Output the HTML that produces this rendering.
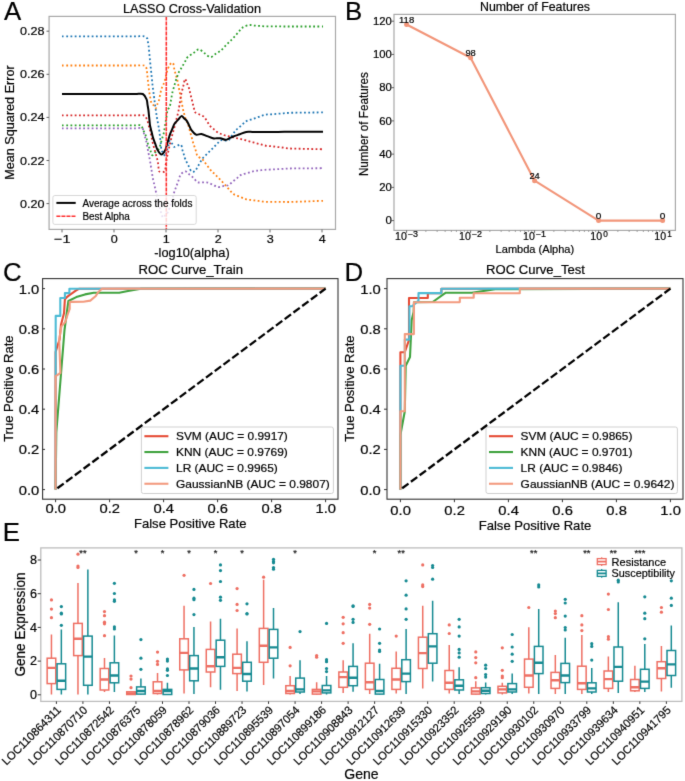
<!DOCTYPE html>
<html><head><meta charset="utf-8"><style>
html,body{margin:0;padding:0;background:#fff;}
svg{display:block;font-family:"Liberation Sans", sans-serif;}
text{stroke:#000;stroke-width:0.2px;paint-order:stroke;}
</style></head><body>
<svg width="685" height="781" viewBox="0 0 685 781">
<defs><filter id="soft" x="0" y="0" width="685" height="781" filterUnits="userSpaceOnUse" color-interpolation-filters="sRGB"><feConvolveMatrix order="3" kernelMatrix="0.01000 0.08000 0.01000 0.08000 0.64000 0.08000 0.01000 0.08000 0.01000" divisor="1" edgeMode="duplicate" preserveAlpha="true"/></filter></defs>
<g filter="url(#soft)">
<rect x="0" y="0" width="685" height="781" fill="#fff"/>
<text x="4" y="20" font-size="25.8" text-anchor="start" fill="#000" >A</text>
<text x="345" y="20" font-size="25.8" text-anchor="start" fill="#000" >B</text>
<text x="3" y="281.2" font-size="25.8" text-anchor="start" fill="#000" >C</text>
<text x="344.5" y="281.2" font-size="25.8" text-anchor="start" fill="#000" >D</text>
<text x="2.8" y="541.2" font-size="25.8" text-anchor="start" fill="#000" >E</text>
<clipPath id="clipA"><rect x="49" y="16.5" width="286.5" height="212.5"/></clipPath>
<g clip-path="url(#clipA)">
<path d="M62.00,36.30 C63.14,36.30 66.56,36.30 68.84,36.30 C71.12,36.30 73.40,36.30 75.68,36.30 C77.96,36.30 80.24,36.30 82.53,36.30 C84.81,36.30 87.09,36.30 89.37,36.30 C91.65,36.30 93.93,36.30 96.21,36.30 C98.49,36.30 100.77,36.30 103.05,36.30 C105.33,36.30 107.61,36.30 109.89,36.30 C112.17,36.30 114.45,36.30 116.73,36.30 C119.01,36.30 121.29,36.30 123.57,36.30 C125.86,36.30 128.14,36.30 130.42,36.30 C132.70,36.30 134.98,36.30 137.26,36.30 C139.54,36.30 142.43,35.92 144.10,36.30 C145.77,36.68 146.66,37.63 147.30,38.60 C147.94,39.57 147.73,40.93 147.95,42.10 C148.17,43.27 148.39,43.95 148.60,45.60 C148.81,47.25 149.00,49.87 149.20,52.00 C149.40,54.13 149.59,56.27 149.80,58.40 C150.01,60.53 150.23,62.67 150.45,64.80 C150.67,66.93 150.88,69.07 151.10,71.20 C151.32,73.33 151.53,75.47 151.75,77.60 C151.97,79.73 152.18,82.08 152.40,84.00 C152.62,85.92 152.83,87.43 153.05,89.15 C153.27,90.87 153.48,92.59 153.70,94.30 C153.92,96.01 154.13,97.70 154.35,99.40 C154.57,101.10 154.73,102.58 155.00,104.50 C155.27,106.42 155.63,108.77 155.95,110.90 C156.27,113.03 156.55,115.17 156.90,117.30 C157.25,119.42 157.67,121.53 158.05,123.65 C158.43,125.77 158.88,127.83 159.20,130.00 C159.52,132.17 159.71,134.44 159.97,136.67 C160.22,138.89 160.48,141.11 160.73,143.33 C160.99,145.56 161.06,148.38 161.50,150.00 C161.94,151.62 162.77,152.03 163.40,153.05 C164.03,154.07 164.73,156.45 165.30,156.10 C165.87,155.75 166.32,152.68 166.83,150.97 C167.34,149.26 167.86,147.54 168.37,145.83 C168.88,144.12 169.26,141.04 169.90,140.70 C170.54,140.36 171.43,142.77 172.20,143.80 C172.97,144.83 173.08,146.77 174.50,146.90 C175.92,147.03 179.41,144.17 180.70,144.60 C181.99,145.03 181.72,147.84 182.23,149.47 C182.74,151.09 183.26,152.71 183.77,154.33 C184.28,155.96 184.54,157.37 185.30,159.20 C186.06,161.03 187.33,163.27 188.35,165.30 C189.37,167.33 190.29,170.43 191.40,171.40 C192.51,172.37 193.97,171.86 195.00,171.10 C196.03,170.34 196.71,168.26 197.57,166.83 C198.42,165.41 199.28,163.99 200.13,162.57 C200.99,161.14 201.63,159.65 202.70,158.30 C203.77,156.95 205.27,155.73 206.55,154.45 C207.83,153.17 209.19,151.81 210.40,150.60 C211.61,149.39 212.67,148.33 213.80,147.20 C214.93,146.07 216.07,144.93 217.20,143.80 C218.33,142.67 219.39,140.97 220.60,140.40 C221.81,139.83 223.17,140.40 224.45,140.40 C225.73,140.40 227.02,141.26 228.30,140.40 C229.58,139.54 230.87,136.97 232.15,135.25 C233.43,133.53 234.51,131.70 236.00,130.10 C237.49,128.50 239.40,127.13 241.10,125.65 C242.80,124.17 244.31,122.30 246.20,121.20 C248.09,120.10 250.36,119.78 252.43,119.07 C254.51,118.36 256.59,117.64 258.67,116.93 C260.74,116.22 262.82,115.24 264.90,114.80 C266.98,114.36 269.08,114.47 271.17,114.30 C273.27,114.13 275.36,113.97 277.45,113.80 C279.54,113.63 281.63,113.47 283.73,113.30 C285.82,113.13 287.85,112.90 290.00,112.80 C292.15,112.70 294.40,112.75 296.60,112.72 C298.80,112.69 301.00,112.67 303.20,112.64 C305.40,112.61 307.60,112.59 309.80,112.56 C312.00,112.53 314.20,112.51 316.40,112.48 C318.60,112.45 321.90,112.41 323.00,112.40" fill="none" stroke="#1f77b4" stroke-width="1.8" stroke-linejoin="round" stroke-linecap="butt" stroke-dasharray="1.8 2.44"/>
<path d="M62.00,65.50 C63.14,65.50 66.56,65.50 68.84,65.50 C71.12,65.50 73.40,65.50 75.68,65.50 C77.96,65.50 80.24,65.50 82.53,65.50 C84.81,65.50 87.09,65.50 89.37,65.50 C91.65,65.50 93.93,65.50 96.21,65.50 C98.49,65.50 100.77,65.50 103.05,65.50 C105.33,65.50 107.61,65.50 109.89,65.50 C112.17,65.50 114.45,65.50 116.73,65.50 C119.01,65.50 121.29,65.50 123.57,65.50 C125.86,65.50 128.14,65.50 130.42,65.50 C132.70,65.50 134.98,65.50 137.26,65.50 C139.54,65.50 142.54,64.97 144.10,65.50 C145.66,66.03 146.07,67.21 146.60,68.70 C147.12,70.19 147.03,72.53 147.25,74.45 C147.47,76.37 147.68,78.28 147.90,80.20 C148.12,82.12 148.33,84.03 148.55,85.95 C148.77,87.87 148.93,89.89 149.20,91.70 C149.47,93.51 149.83,95.10 150.15,96.80 C150.47,98.50 150.57,100.52 151.10,101.90 C151.63,103.28 152.60,104.03 153.35,105.10 C154.10,106.17 154.96,108.40 155.60,108.30 C156.24,108.20 156.67,105.77 157.20,104.50 C157.73,103.23 158.32,102.30 158.80,100.70 C159.28,99.10 159.67,96.83 160.10,94.90 C160.53,92.97 160.92,90.70 161.40,89.10 C161.88,87.50 162.47,86.57 163.00,85.30 C163.53,84.03 164.12,82.99 164.60,81.50 C165.07,80.01 165.43,78.07 165.85,76.35 C166.27,74.63 166.46,73.12 167.10,71.20 C167.74,69.28 168.73,66.18 169.70,64.80 C170.67,63.42 172.21,62.52 172.90,62.90 C173.59,63.27 173.53,65.67 173.85,67.05 C174.17,68.43 174.43,69.76 174.80,71.20 C175.18,72.64 175.67,74.20 176.10,75.70 C176.53,77.20 177.01,78.53 177.40,80.20 C177.79,81.87 178.11,83.89 178.47,85.73 C178.82,87.58 179.18,89.42 179.53,91.27 C179.89,93.11 180.21,94.81 180.60,96.80 C180.99,98.79 181.43,101.07 181.85,103.20 C182.27,105.33 182.72,107.89 183.10,109.60 C183.47,111.31 183.77,112.17 184.10,113.45 C184.43,114.73 184.66,115.98 185.10,117.30 C185.54,118.62 186.20,120.00 186.75,121.35 C187.30,122.70 187.87,123.79 188.40,125.40 C188.93,127.01 189.42,129.16 189.93,131.03 C190.44,132.91 190.96,134.79 191.47,136.67 C191.98,138.54 192.49,140.59 193.00,142.30 C193.51,144.01 194.02,145.37 194.53,146.90 C195.04,148.43 195.56,149.97 196.07,151.50 C196.58,153.03 196.49,154.75 197.60,156.10 C198.71,157.45 201.21,158.17 202.70,159.60 C204.19,161.03 205.27,163.00 206.55,164.70 C207.83,166.40 209.19,168.38 210.40,169.80 C211.61,171.22 212.67,172.07 213.80,173.20 C214.93,174.33 216.07,175.47 217.20,176.60 C218.33,177.73 219.32,178.65 220.60,180.00 C221.88,181.35 223.44,183.13 224.87,184.70 C226.29,186.27 227.71,187.83 229.13,189.40 C230.56,190.97 231.62,192.88 233.40,194.10 C235.18,195.32 237.67,195.83 239.80,196.70 C241.93,197.57 244.09,198.73 246.20,199.30 C248.31,199.87 250.36,199.86 252.43,200.13 C254.51,200.41 256.59,200.69 258.67,200.97 C260.74,201.24 262.82,201.65 264.90,201.80 C266.98,201.95 269.08,201.83 271.17,201.85 C273.27,201.87 275.36,201.88 277.45,201.90 C279.54,201.92 281.63,201.93 283.73,201.95 C285.82,201.97 287.85,202.03 290.00,202.00 C292.15,201.97 294.40,201.84 296.60,201.76 C298.80,201.68 301.00,201.60 303.20,201.52 C305.40,201.44 307.60,201.36 309.80,201.28 C312.00,201.20 314.20,201.12 316.40,201.04 C318.60,200.96 321.90,200.84 323.00,200.80" fill="none" stroke="#ff7f0e" stroke-width="1.8" stroke-linejoin="round" stroke-linecap="butt" stroke-dasharray="1.8 2.44"/>
<path d="M62.00,125.40 C63.09,125.40 66.38,125.40 68.57,125.40 C70.76,125.40 72.94,125.40 75.13,125.40 C77.32,125.40 79.51,125.40 81.70,125.40 C83.89,125.40 86.08,125.40 88.27,125.40 C90.46,125.40 92.64,125.40 94.83,125.40 C97.02,125.40 99.21,125.40 101.40,125.40 C103.59,125.40 105.78,125.40 107.97,125.40 C110.16,125.40 112.34,125.40 114.53,125.40 C116.72,125.40 118.91,125.40 121.10,125.40 C123.29,125.40 125.48,125.40 127.67,125.40 C129.86,125.40 132.04,125.40 134.23,125.40 C136.42,125.40 139.32,124.63 140.80,125.40 C142.28,126.17 142.33,128.47 143.10,130.00 C143.87,131.53 144.77,132.94 145.40,134.60 C146.03,136.26 146.40,138.17 146.90,139.95 C147.40,141.73 147.82,143.58 148.40,145.30 C148.98,147.03 149.70,148.63 150.35,150.30 C151.00,151.97 151.40,155.04 152.30,155.30 C153.20,155.56 154.60,153.00 155.75,151.85 C156.90,150.70 158.37,149.83 159.20,148.40 C160.03,146.97 160.22,144.98 160.73,143.27 C161.24,141.56 161.76,139.84 162.27,138.13 C162.78,136.42 163.39,134.81 163.80,133.00 C164.21,131.19 164.43,129.17 164.75,127.25 C165.07,125.33 165.38,123.42 165.70,121.50 C166.02,119.58 166.33,117.67 166.65,115.75 C166.97,113.83 167.09,111.44 167.60,110.00 C168.11,108.56 169.21,108.37 169.70,107.10 C170.19,105.83 170.28,103.97 170.57,102.40 C170.86,100.83 171.14,99.27 171.43,97.70 C171.72,96.13 171.89,94.74 172.30,93.00 C172.71,91.26 173.37,89.17 173.90,87.25 C174.43,85.33 174.97,83.21 175.50,81.50 C176.03,79.79 176.57,78.50 177.10,77.00 C177.63,75.50 178.12,73.78 178.70,72.50 C179.28,71.22 179.97,70.37 180.60,69.30 C181.23,68.23 181.76,67.38 182.50,66.10 C183.24,64.82 184.20,63.10 185.05,61.60 C185.90,60.10 186.24,58.49 187.60,57.10 C188.96,55.71 191.33,54.53 193.20,53.25 C195.07,51.97 196.90,49.40 198.80,49.40 C200.70,49.40 202.67,51.97 204.60,53.25 C206.53,54.53 208.58,56.99 210.40,57.10 C212.22,57.21 213.80,54.97 215.50,53.90 C217.20,52.83 219.04,51.94 220.60,50.70 C222.16,49.46 223.44,47.86 224.87,46.43 C226.29,45.01 227.71,43.59 229.13,42.17 C230.56,40.74 231.94,39.46 233.40,37.90 C234.86,36.34 236.40,34.50 237.90,32.80 C239.40,31.10 240.58,28.98 242.40,27.70 C244.22,26.42 246.84,25.46 248.80,25.10 C250.76,24.74 252.38,25.39 254.17,25.53 C255.96,25.68 257.74,25.82 259.53,25.97 C261.32,26.11 262.96,26.32 264.90,26.40 C266.84,26.48 269.08,26.42 271.17,26.42 C273.27,26.43 275.36,26.44 277.45,26.45 C279.54,26.46 281.63,26.47 283.73,26.48 C285.82,26.48 287.85,26.50 290.00,26.50 C292.15,26.50 294.40,26.50 296.60,26.50 C298.80,26.50 301.00,26.50 303.20,26.50 C305.40,26.50 307.60,26.50 309.80,26.50 C312.00,26.50 314.20,26.50 316.40,26.50 C318.60,26.50 321.90,26.50 323.00,26.50" fill="none" stroke="#2ca02c" stroke-width="1.8" stroke-linejoin="round" stroke-linecap="butt" stroke-dasharray="1.8 2.44"/>
<path d="M62.00,115.40 C63.14,115.40 66.54,115.40 68.82,115.40 C71.09,115.40 73.36,115.40 75.63,115.40 C77.91,115.40 80.18,115.40 82.45,115.40 C84.72,115.40 86.99,115.40 89.27,115.40 C91.54,115.40 93.81,115.40 96.08,115.40 C98.36,115.40 100.63,115.40 102.90,115.40 C105.17,115.40 107.44,115.40 109.72,115.40 C111.99,115.40 114.26,115.40 116.53,115.40 C118.81,115.40 121.08,115.40 123.35,115.40 C125.62,115.40 127.89,115.40 130.17,115.40 C132.44,115.40 134.71,115.40 136.98,115.40 C139.26,115.40 142.15,114.77 143.80,115.40 C145.45,116.03 146.12,117.67 146.90,119.20 C147.68,120.73 147.93,122.80 148.45,124.60 C148.97,126.40 149.57,128.33 150.00,130.00 C150.43,131.67 150.67,133.07 151.00,134.60 C151.33,136.13 151.67,137.67 152.00,139.20 C152.33,140.73 152.58,142.09 153.00,143.80 C153.42,145.51 154.02,147.56 154.53,149.43 C155.04,151.31 155.56,153.19 156.07,155.07 C156.58,156.94 157.21,158.87 157.60,160.70 C157.99,162.53 158.13,164.27 158.40,166.05 C158.67,167.83 158.17,170.51 159.20,171.40 C160.23,172.29 163.51,172.55 164.60,171.40 C165.69,170.25 165.37,166.80 165.75,164.50 C166.13,162.20 166.50,159.69 166.90,157.60 C167.30,155.51 167.74,153.84 168.17,151.97 C168.59,150.09 169.01,148.21 169.43,146.33 C169.86,144.46 170.28,142.41 170.70,140.70 C171.12,138.99 171.54,137.63 171.97,136.10 C172.39,134.57 172.81,133.03 173.23,131.50 C173.66,129.97 174.07,128.52 174.50,126.90 C174.93,125.28 175.37,123.48 175.80,121.77 C176.23,120.06 176.67,118.34 177.10,116.63 C177.53,114.92 178.03,113.31 178.40,111.50 C178.77,109.69 179.02,107.68 179.33,105.77 C179.64,103.86 179.96,101.94 180.27,100.03 C180.58,98.12 180.83,96.11 181.20,94.30 C181.57,92.49 182.07,90.88 182.50,89.17 C182.93,87.46 183.37,85.74 183.80,84.03 C184.23,82.32 184.57,79.01 185.10,78.90 C185.63,78.79 186.37,81.90 187.00,83.40 C187.63,84.90 188.37,86.30 188.90,87.90 C189.43,89.50 189.74,91.30 190.17,93.00 C190.59,94.70 191.01,96.40 191.43,98.10 C191.86,99.80 192.30,101.60 192.70,103.20 C193.10,104.80 193.47,106.20 193.85,107.70 C194.23,109.20 194.06,111.07 195.00,112.20 C195.94,113.33 198.00,113.73 199.50,114.50 C201.00,115.27 202.72,115.62 204.00,116.80 C205.28,117.97 206.13,119.97 207.20,121.55 C208.27,123.13 209.23,124.97 210.40,126.30 C211.57,127.62 212.93,128.43 214.20,129.50 C215.47,130.57 216.72,131.92 218.00,132.70 C219.28,133.48 220.57,133.70 221.85,134.20 C223.13,134.70 224.20,135.26 225.70,135.70 C227.20,136.14 229.12,136.46 230.83,136.83 C232.54,137.21 234.26,137.59 235.97,137.97 C237.68,138.34 239.25,138.64 241.10,139.10 C242.95,139.56 245.07,140.17 247.05,140.70 C249.03,141.23 251.02,141.77 253.00,142.30 C254.98,142.83 256.97,143.37 258.95,143.90 C260.93,144.43 262.86,145.11 264.90,145.50 C266.94,145.89 269.08,146.00 271.17,146.25 C273.27,146.50 275.36,146.75 277.45,147.00 C279.54,147.25 281.63,147.50 283.73,147.75 C285.82,148.00 287.85,148.35 290.00,148.50 C292.15,148.65 294.40,148.61 296.60,148.66 C298.80,148.71 301.00,148.77 303.20,148.82 C305.40,148.87 307.60,148.93 309.80,148.98 C312.00,149.03 314.20,149.09 316.40,149.14 C318.60,149.19 321.90,149.27 323.00,149.30" fill="none" stroke="#d62728" stroke-width="1.8" stroke-linejoin="round" stroke-linecap="butt" stroke-dasharray="1.8 2.44"/>
<path d="M62.00,128.40 C63.12,128.40 66.46,128.40 68.69,128.40 C70.92,128.40 73.15,128.40 75.38,128.40 C77.61,128.40 79.84,128.40 82.08,128.40 C84.31,128.40 86.54,128.40 88.77,128.40 C91.00,128.40 93.23,128.40 95.46,128.40 C97.69,128.40 99.92,128.40 102.15,128.40 C104.38,128.40 106.61,128.40 108.84,128.40 C111.07,128.40 113.30,128.40 115.53,128.40 C117.76,128.40 119.99,128.40 122.22,128.40 C124.46,128.40 126.69,128.40 128.92,128.40 C131.15,128.40 133.38,128.40 135.61,128.40 C137.84,128.40 140.87,127.38 142.30,128.40 C143.73,129.43 143.57,132.50 144.20,134.55 C144.83,136.60 145.57,138.56 146.10,140.70 C146.63,142.84 146.97,145.14 147.40,147.37 C147.83,149.59 148.27,151.81 148.70,154.03 C149.13,156.26 149.62,158.57 150.00,160.70 C150.38,162.83 150.67,164.79 151.00,166.83 C151.33,168.88 151.67,170.92 152.00,172.97 C152.33,175.01 152.62,177.14 153.00,179.10 C153.38,181.06 153.87,182.86 154.30,184.73 C154.73,186.61 155.17,188.49 155.60,190.37 C156.03,192.24 156.47,194.21 156.90,196.00 C157.33,197.79 157.74,199.42 158.17,201.13 C158.59,202.84 159.01,204.56 159.43,206.27 C159.86,207.98 160.11,209.53 160.70,211.40 C161.29,213.27 162.17,216.99 163.00,217.50 C163.83,218.01 164.80,215.47 165.70,214.45 C166.60,213.43 167.61,213.02 168.40,211.40 C169.19,209.78 169.76,206.96 170.43,204.73 C171.11,202.51 171.79,200.29 172.47,198.07 C173.14,195.84 173.82,193.45 174.50,191.40 C175.18,189.35 175.88,187.64 176.57,185.77 C177.26,183.89 177.94,182.01 178.63,180.13 C179.32,178.26 179.59,175.96 180.70,174.50 C181.81,173.04 184.03,171.53 185.30,171.40 C186.58,171.27 187.33,172.93 188.35,173.70 C189.37,174.47 190.38,175.10 191.40,176.00 C192.43,176.90 193.47,178.07 194.50,179.10 C195.53,180.13 196.23,181.65 197.60,182.20 C198.97,182.75 201.00,182.33 202.70,182.40 C204.40,182.47 206.10,182.20 207.80,182.60 C209.50,183.00 211.20,184.07 212.90,184.80 C214.60,185.53 216.29,186.78 218.00,187.00 C219.71,187.22 221.43,186.40 223.15,186.10 C224.87,185.80 226.73,185.92 228.30,185.20 C229.87,184.48 231.14,182.91 232.57,181.77 C233.99,180.62 235.41,179.48 236.83,178.33 C238.26,177.19 239.32,175.79 241.10,174.90 C242.88,174.01 245.37,173.63 247.50,173.00 C249.63,172.37 251.92,171.53 253.90,171.10 C255.88,170.67 257.57,170.67 259.40,170.45 C261.23,170.23 262.94,169.96 264.90,169.80 C266.86,169.64 269.08,169.58 271.17,169.48 C273.27,169.37 275.36,169.26 277.45,169.15 C279.54,169.04 281.63,168.93 283.73,168.82 C285.82,168.72 287.85,168.56 290.00,168.50 C292.15,168.44 294.40,168.46 296.60,168.44 C298.80,168.42 301.00,168.40 303.20,168.38 C305.40,168.36 307.60,168.34 309.80,168.32 C312.00,168.30 314.20,168.28 316.40,168.26 C318.60,168.24 321.90,168.21 323.00,168.20" fill="none" stroke="#9467bd" stroke-width="1.8" stroke-linejoin="round" stroke-linecap="butt" stroke-dasharray="1.8 2.44"/>
<path d="M62.00,94.00 C63.12,94.00 66.49,94.00 68.73,94.00 C70.98,94.00 73.22,94.00 75.47,94.00 C77.71,94.00 79.96,94.00 82.20,94.00 C84.44,94.00 86.69,94.00 88.93,94.00 C91.18,94.00 93.42,94.00 95.67,94.00 C97.91,94.00 100.16,94.00 102.40,94.00 C104.64,94.00 106.89,94.00 109.13,94.00 C111.38,94.00 113.62,94.00 115.87,94.00 C118.11,94.00 120.36,94.00 122.60,94.00 C124.84,94.00 127.09,94.00 129.33,94.00 C131.58,94.00 133.82,94.00 136.07,94.00 C138.31,94.00 141.04,93.10 142.80,94.00 C144.56,94.90 145.82,97.62 146.60,99.40 C147.38,101.18 147.20,102.93 147.50,104.70 C147.80,106.47 148.16,108.26 148.40,110.00 C148.64,111.74 148.76,113.42 148.93,115.13 C149.11,116.84 149.29,118.56 149.47,120.27 C149.64,121.98 149.66,123.53 150.00,125.40 C150.34,127.27 151.00,129.47 151.50,131.50 C152.00,133.53 152.37,135.55 153.00,137.60 C153.63,139.65 154.53,141.73 155.30,143.80 C156.07,145.87 156.57,148.22 157.60,150.00 C158.63,151.78 160.22,154.50 161.50,154.50 C162.78,154.50 164.41,151.61 165.30,150.00 C166.19,148.39 166.32,146.58 166.83,144.87 C167.34,143.16 167.86,141.44 168.37,139.73 C168.88,138.02 169.26,136.36 169.90,134.60 C170.54,132.84 171.43,131.00 172.20,129.20 C172.97,127.40 173.53,125.34 174.50,123.80 C175.47,122.26 176.83,121.23 178.00,119.95 C179.17,118.67 180.47,116.35 181.50,116.10 C182.53,115.85 183.27,117.67 184.15,118.45 C185.03,119.23 185.98,119.64 186.80,120.80 C187.62,121.96 188.33,123.87 189.10,125.40 C189.87,126.93 190.25,128.47 191.40,130.00 C192.55,131.53 194.33,133.93 196.00,134.60 C197.67,135.27 199.54,133.74 201.40,134.00 C203.26,134.26 205.23,135.43 207.15,136.15 C209.07,136.87 211.30,137.94 212.90,138.30 C214.50,138.66 215.47,138.30 216.75,138.30 C218.03,138.30 219.11,138.05 220.60,138.30 C222.09,138.55 224.21,139.83 225.70,139.80 C227.19,139.78 228.27,138.70 229.55,138.15 C230.83,137.60 231.69,137.16 233.40,136.50 C235.11,135.84 237.67,134.97 239.80,134.20 C241.93,133.43 244.09,132.28 246.20,131.90 C248.31,131.52 250.36,131.90 252.43,131.90 C254.51,131.90 256.59,131.90 258.67,131.90 C260.74,131.90 262.79,131.90 264.90,131.90 C267.01,131.90 269.20,131.89 271.36,131.89 C273.51,131.89 275.66,131.88 277.81,131.88 C279.96,131.87 282.11,131.87 284.27,131.87 C286.42,131.86 288.57,131.86 290.72,131.86 C292.87,131.85 295.03,131.85 297.18,131.84 C299.33,131.84 301.48,131.84 303.63,131.83 C305.79,131.83 307.94,131.83 310.09,131.82 C312.24,131.82 314.39,131.81 316.54,131.81 C318.70,131.81 321.92,131.80 323.00,131.80" fill="none" stroke="#000" stroke-width="2.0" stroke-linejoin="round" stroke-linecap="butt" />
<line x1="166.3" y1="16.5" x2="166.3" y2="229" stroke="#ff3030" stroke-width="1.6" stroke-dasharray="4.0 1.03"/>
</g>
<rect x="52.9" y="195.5" width="143.3" height="28.9" rx="2" ry="2" fill="#fff" fill-opacity="0.8" stroke="#d8d8d8" stroke-width="1"/>
<line x1="56.4" y1="202.9" x2="75.7" y2="202.9" stroke="#000" stroke-width="2" />
<line x1="56.4" y1="216.2" x2="75.7" y2="216.2" stroke="#ff3030" stroke-width="1.6" stroke-dasharray="4.0 1.03"/>
<text x="82.4" y="206.7" font-size="10.4" text-anchor="start" fill="#000" textLength="110" lengthAdjust="spacingAndGlyphs" >Average across the folds</text>
<text x="82.4" y="220" font-size="10.4" text-anchor="start" fill="#000" textLength="47.5" lengthAdjust="spacingAndGlyphs" >Best Alpha</text>
<rect x="49.08" y="16.4" width="286.42" height="213.0" stroke="#a8a8a8" stroke-width="1.2" fill="none" />
<line x1="46.5" y1="203.6" x2="49.08" y2="203.6" stroke="#666" stroke-width="1" />
<text x="44.6" y="207.6" font-size="11.65" text-anchor="end" fill="#000" textLength="24.5" lengthAdjust="spacingAndGlyphs" >0.20</text>
<line x1="46.5" y1="160.5" x2="49.08" y2="160.5" stroke="#666" stroke-width="1" />
<text x="44.6" y="164.5" font-size="11.65" text-anchor="end" fill="#000" textLength="24.5" lengthAdjust="spacingAndGlyphs" >0.22</text>
<line x1="46.5" y1="117.40000000000003" x2="49.08" y2="117.40000000000003" stroke="#666" stroke-width="1" />
<text x="44.6" y="121.40000000000003" font-size="11.65" text-anchor="end" fill="#000" textLength="24.5" lengthAdjust="spacingAndGlyphs" >0.24</text>
<line x1="46.5" y1="74.30000000000001" x2="49.08" y2="74.30000000000001" stroke="#666" stroke-width="1" />
<text x="44.6" y="78.30000000000001" font-size="11.65" text-anchor="end" fill="#000" textLength="24.5" lengthAdjust="spacingAndGlyphs" >0.26</text>
<line x1="46.5" y1="31.19999999999996" x2="49.08" y2="31.19999999999996" stroke="#666" stroke-width="1" />
<text x="44.6" y="35.19999999999996" font-size="11.65" text-anchor="end" fill="#000" textLength="24.5" lengthAdjust="spacingAndGlyphs" >0.28</text>
<line x1="62" y1="229.4" x2="62" y2="232.4" stroke="#666" stroke-width="1" />
<text x="62.3" y="242.6" font-size="11.65" text-anchor="middle" fill="#000" textLength="16.4" lengthAdjust="spacingAndGlyphs" >−1</text>
<line x1="114" y1="229.4" x2="114" y2="232.4" stroke="#666" stroke-width="1" />
<text x="114.3" y="242.6" font-size="11.65" text-anchor="middle" fill="#000" textLength="7.0" lengthAdjust="spacingAndGlyphs" >0</text>
<line x1="166" y1="229.4" x2="166" y2="232.4" stroke="#666" stroke-width="1" />
<text x="166.3" y="242.6" font-size="11.65" text-anchor="middle" fill="#000" textLength="7.0" lengthAdjust="spacingAndGlyphs" >1</text>
<line x1="218" y1="229.4" x2="218" y2="232.4" stroke="#666" stroke-width="1" />
<text x="218.3" y="242.6" font-size="11.65" text-anchor="middle" fill="#000" textLength="7.0" lengthAdjust="spacingAndGlyphs" >2</text>
<line x1="270" y1="229.4" x2="270" y2="232.4" stroke="#666" stroke-width="1" />
<text x="270.3" y="242.6" font-size="11.65" text-anchor="middle" fill="#000" textLength="7.0" lengthAdjust="spacingAndGlyphs" >3</text>
<line x1="322" y1="229.4" x2="322" y2="232.4" stroke="#666" stroke-width="1" />
<text x="322.3" y="242.6" font-size="11.65" text-anchor="middle" fill="#000" textLength="7.0" lengthAdjust="spacingAndGlyphs" >4</text>
<text x="192" y="257" font-size="13.0" text-anchor="middle" fill="#000" textLength="75.3" lengthAdjust="spacingAndGlyphs" >-log10(alpha)</text>
<text x="192" y="13" font-size="13.1" text-anchor="middle" fill="#000" textLength="138" lengthAdjust="spacingAndGlyphs" >LASSO Cross-Validation</text>
<text x="0" y="0" font-size="13.1" text-anchor="middle" transform="translate(13.8,122.5) rotate(-90)" textLength="114.5" lengthAdjust="spacingAndGlyphs">Mean Squared Error</text>
<rect x="394" y="14.4" width="281.4" height="216.0" stroke="#a8a8a8" stroke-width="1.2" fill="none" />
<line x1="391.5" y1="220.6" x2="394" y2="220.6" stroke="#666" stroke-width="1" />
<text x="391.8" y="224.4" font-size="10.82" text-anchor="end" fill="#000" textLength="6.4" lengthAdjust="spacingAndGlyphs" >0</text>
<line x1="391.5" y1="187.36599999999999" x2="394" y2="187.36599999999999" stroke="#666" stroke-width="1" />
<text x="391.8" y="191.166" font-size="10.82" text-anchor="end" fill="#000" textLength="12.6" lengthAdjust="spacingAndGlyphs" >20</text>
<line x1="391.5" y1="154.132" x2="394" y2="154.132" stroke="#666" stroke-width="1" />
<text x="391.8" y="157.93200000000002" font-size="10.82" text-anchor="end" fill="#000" textLength="12.6" lengthAdjust="spacingAndGlyphs" >40</text>
<line x1="391.5" y1="120.898" x2="394" y2="120.898" stroke="#666" stroke-width="1" />
<text x="391.8" y="124.698" font-size="10.82" text-anchor="end" fill="#000" textLength="12.6" lengthAdjust="spacingAndGlyphs" >60</text>
<line x1="391.5" y1="87.66399999999999" x2="394" y2="87.66399999999999" stroke="#666" stroke-width="1" />
<text x="391.8" y="91.46399999999998" font-size="10.82" text-anchor="end" fill="#000" textLength="12.6" lengthAdjust="spacingAndGlyphs" >80</text>
<line x1="391.5" y1="54.43000000000001" x2="394" y2="54.43000000000001" stroke="#666" stroke-width="1" />
<text x="391.8" y="58.230000000000004" font-size="10.82" text-anchor="end" fill="#000" textLength="18.8" lengthAdjust="spacingAndGlyphs" >100</text>
<line x1="391.5" y1="21.195999999999998" x2="394" y2="21.195999999999998" stroke="#666" stroke-width="1" />
<text x="391.8" y="24.996" font-size="10.82" text-anchor="end" fill="#000" textLength="18.8" lengthAdjust="spacingAndGlyphs" >120</text>
<line x1="406.6" y1="230.4" x2="406.6" y2="232.9" stroke="#666" stroke-width="1" />
<text x="395.0" y="240.2" font-size="11.0" textLength="11.8" lengthAdjust="spacingAndGlyphs">10</text>
<text x="407.90000000000003" y="237.2" font-size="8.2" textLength="10.2" lengthAdjust="spacingAndGlyphs">−3</text>
<line x1="470.6" y1="230.4" x2="470.6" y2="232.9" stroke="#666" stroke-width="1" />
<text x="459.0" y="240.2" font-size="11.0" textLength="11.8" lengthAdjust="spacingAndGlyphs">10</text>
<text x="471.90000000000003" y="237.2" font-size="8.2" textLength="10.2" lengthAdjust="spacingAndGlyphs">−2</text>
<line x1="534.6" y1="230.4" x2="534.6" y2="232.9" stroke="#666" stroke-width="1" />
<text x="523.0" y="240.2" font-size="11.0" textLength="11.8" lengthAdjust="spacingAndGlyphs">10</text>
<text x="535.9" y="237.2" font-size="8.2" textLength="10.2" lengthAdjust="spacingAndGlyphs">−1</text>
<line x1="598.6" y1="230.4" x2="598.6" y2="232.9" stroke="#666" stroke-width="1" />
<text x="590.3" y="240.2" font-size="11.0" textLength="11.8" lengthAdjust="spacingAndGlyphs">10</text>
<text x="603.1999999999999" y="237.2" font-size="8.2" textLength="4.6" lengthAdjust="spacingAndGlyphs">0</text>
<line x1="662.6" y1="230.4" x2="662.6" y2="232.9" stroke="#666" stroke-width="1" />
<text x="654.3" y="240.2" font-size="11.0" textLength="11.8" lengthAdjust="spacingAndGlyphs">10</text>
<text x="667.1999999999999" y="237.2" font-size="8.2" textLength="4.6" lengthAdjust="spacingAndGlyphs">1</text>
<line x1="425.8659197224948" y1="230.4" x2="425.8659197224948" y2="232.0" stroke="#888" stroke-width="0.8" />
<line x1="437.13576030205843" y1="230.4" x2="437.13576030205843" y2="232.0" stroke="#888" stroke-width="0.8" />
<line x1="445.1318394449896" y1="230.4" x2="445.1318394449896" y2="232.0" stroke="#888" stroke-width="0.8" />
<line x1="451.3340802775052" y1="230.4" x2="451.3340802775052" y2="232.0" stroke="#888" stroke-width="0.8" />
<line x1="456.40168002455323" y1="230.4" x2="456.40168002455323" y2="232.0" stroke="#888" stroke-width="0.8" />
<line x1="460.68627456091247" y1="230.4" x2="460.68627456091247" y2="232.0" stroke="#888" stroke-width="0.8" />
<line x1="464.3977591674844" y1="230.4" x2="464.3977591674844" y2="232.0" stroke="#888" stroke-width="0.8" />
<line x1="467.67152060411684" y1="230.4" x2="467.67152060411684" y2="232.0" stroke="#888" stroke-width="0.8" />
<line x1="489.8659197224948" y1="230.4" x2="489.8659197224948" y2="232.0" stroke="#888" stroke-width="0.8" />
<line x1="501.13576030205843" y1="230.4" x2="501.13576030205843" y2="232.0" stroke="#888" stroke-width="0.8" />
<line x1="509.1318394449896" y1="230.4" x2="509.1318394449896" y2="232.0" stroke="#888" stroke-width="0.8" />
<line x1="515.3340802775052" y1="230.4" x2="515.3340802775052" y2="232.0" stroke="#888" stroke-width="0.8" />
<line x1="520.4016800245532" y1="230.4" x2="520.4016800245532" y2="232.0" stroke="#888" stroke-width="0.8" />
<line x1="524.6862745609125" y1="230.4" x2="524.6862745609125" y2="232.0" stroke="#888" stroke-width="0.8" />
<line x1="528.3977591674844" y1="230.4" x2="528.3977591674844" y2="232.0" stroke="#888" stroke-width="0.8" />
<line x1="531.6715206041168" y1="230.4" x2="531.6715206041168" y2="232.0" stroke="#888" stroke-width="0.8" />
<line x1="553.8659197224948" y1="230.4" x2="553.8659197224948" y2="232.0" stroke="#888" stroke-width="0.8" />
<line x1="565.1357603020584" y1="230.4" x2="565.1357603020584" y2="232.0" stroke="#888" stroke-width="0.8" />
<line x1="573.1318394449896" y1="230.4" x2="573.1318394449896" y2="232.0" stroke="#888" stroke-width="0.8" />
<line x1="579.3340802775052" y1="230.4" x2="579.3340802775052" y2="232.0" stroke="#888" stroke-width="0.8" />
<line x1="584.4016800245532" y1="230.4" x2="584.4016800245532" y2="232.0" stroke="#888" stroke-width="0.8" />
<line x1="588.6862745609125" y1="230.4" x2="588.6862745609125" y2="232.0" stroke="#888" stroke-width="0.8" />
<line x1="592.3977591674844" y1="230.4" x2="592.3977591674844" y2="232.0" stroke="#888" stroke-width="0.8" />
<line x1="595.6715206041168" y1="230.4" x2="595.6715206041168" y2="232.0" stroke="#888" stroke-width="0.8" />
<line x1="617.8659197224948" y1="230.4" x2="617.8659197224948" y2="232.0" stroke="#888" stroke-width="0.8" />
<line x1="629.1357603020584" y1="230.4" x2="629.1357603020584" y2="232.0" stroke="#888" stroke-width="0.8" />
<line x1="637.1318394449896" y1="230.4" x2="637.1318394449896" y2="232.0" stroke="#888" stroke-width="0.8" />
<line x1="643.3340802775052" y1="230.4" x2="643.3340802775052" y2="232.0" stroke="#888" stroke-width="0.8" />
<line x1="648.4016800245532" y1="230.4" x2="648.4016800245532" y2="232.0" stroke="#888" stroke-width="0.8" />
<line x1="652.6862745609125" y1="230.4" x2="652.6862745609125" y2="232.0" stroke="#888" stroke-width="0.8" />
<line x1="656.3977591674844" y1="230.4" x2="656.3977591674844" y2="232.0" stroke="#888" stroke-width="0.8" />
<line x1="659.6715206041168" y1="230.4" x2="659.6715206041168" y2="232.0" stroke="#888" stroke-width="0.8" />
<polyline points="406.6,24.5 470.6,57.8 534.6,180.7 598.6,220.6 662.6,220.6" fill="none" stroke="#F2967A" stroke-width="2.1" stroke-linejoin="round" />
<circle cx="406.6" cy="24.51939999999999" r="2.5" fill="#F2967A"/>
<text x="406.6" y="23.21939999999999" font-size="9.15" text-anchor="middle" fill="#000" textLength="15.2" lengthAdjust="spacingAndGlyphs" >118</text>
<circle cx="470.6" cy="57.7534" r="2.5" fill="#F2967A"/>
<text x="470.6" y="56.4534" font-size="9.15" text-anchor="middle" fill="#000" textLength="10.4" lengthAdjust="spacingAndGlyphs" >98</text>
<circle cx="534.6" cy="180.7192" r="2.5" fill="#F2967A"/>
<text x="534.6" y="179.4192" font-size="9.15" text-anchor="middle" fill="#000" textLength="10.4" lengthAdjust="spacingAndGlyphs" >24</text>
<circle cx="598.6" cy="220.6" r="2.5" fill="#F2967A"/>
<text x="598.6" y="219.29999999999998" font-size="9.15" text-anchor="middle" fill="#000" textLength="5.6" lengthAdjust="spacingAndGlyphs" >0</text>
<circle cx="662.6" cy="220.6" r="2.5" fill="#F2967A"/>
<text x="662.6" y="219.29999999999998" font-size="9.15" text-anchor="middle" fill="#000" textLength="5.6" lengthAdjust="spacingAndGlyphs" >0</text>
<text x="535" y="11" font-size="13.0" text-anchor="middle" fill="#000" textLength="110" lengthAdjust="spacingAndGlyphs" >Number of Features</text>
<text x="534.9" y="252.7" font-size="11.49" text-anchor="middle" fill="#000" textLength="78.6" lengthAdjust="spacingAndGlyphs" >Lambda (Alpha)</text>
<text x="0" y="0" font-size="12.1" text-anchor="middle" transform="translate(368.4,124.1) rotate(-90)" textLength="104" lengthAdjust="spacingAndGlyphs">Number of Features</text>
<clipPath id="cliprain"><rect x="42.6" y="278.6" width="295.4" height="220.59999999999997"/></clipPath>
<g clip-path="url(#cliprain)">
<polyline points="55.6,489.6 55.6,352.0 57.3,346.4 59.6,339.5 61.0,324.7 64.0,313.3 64.9,299.3 67.5,296.6 69.7,294.9 72.3,293.1 75.4,290.9 78.9,288.8 325.6,288.6" fill="none" stroke="#E64B35" stroke-width="2.1" stroke-linejoin="round" />
<polyline points="55.6,489.6 56.3,432.5 64.5,330.0 68.4,301.0 76.3,297.1 85.0,294.4 93.8,292.7 119.2,292.8 128.0,291.0 141.1,288.8 325.6,288.6" fill="none" stroke="#40A33F" stroke-width="2.1" stroke-linejoin="round" />
<polyline points="55.6,489.6 55.7,315.9 60.3,315.9 60.3,298.0 64.9,298.0 64.9,293.1 69.4,293.1 69.4,288.8 325.6,288.6" fill="none" stroke="#4DBBD5" stroke-width="2.1" stroke-linejoin="round" />
<polyline points="55.6,489.6 55.7,376.1 60.4,373.0 59.2,339.5 61.4,326.4 65.3,322.0 67.5,315.0 69.7,308.9 69.7,301.9 71.9,301.9 83.3,301.7 90.3,300.6 95.8,296.0 98.0,292.4 101.0,289.5 102.5,288.8 325.6,288.6" fill="none" stroke="#F39B7F" stroke-width="2.1" stroke-linejoin="round" />
<line x1="55.6" y1="489.6" x2="325.6" y2="288.6" stroke="#000" stroke-width="2.3" stroke-dasharray="7.9 3.0" stroke-dashoffset="-2.2"/>
</g>
<rect x="42.6" y="278.6" width="295.4" height="220.59999999999997" stroke="#333" stroke-width="1.1" fill="none" />
<line x1="42.6" y1="489.6" x2="45" y2="489.6" stroke="#333" stroke-width="1" />
<text x="39.3" y="494.5" font-size="13.42" text-anchor="end" fill="#000" textLength="20.5" lengthAdjust="spacingAndGlyphs" >0.0</text>
<line x1="55.6" y1="499.2" x2="55.6" y2="502.2" stroke="#333" stroke-width="1" />
<text x="55.800000000000004" y="512.6" font-size="13.42" text-anchor="middle" fill="#000" textLength="20.5" lengthAdjust="spacingAndGlyphs" >0.0</text>
<line x1="42.6" y1="449.40000000000003" x2="45" y2="449.40000000000003" stroke="#333" stroke-width="1" />
<text x="39.3" y="454.3" font-size="13.42" text-anchor="end" fill="#000" textLength="20.5" lengthAdjust="spacingAndGlyphs" >0.2</text>
<line x1="109.6" y1="499.2" x2="109.6" y2="502.2" stroke="#333" stroke-width="1" />
<text x="109.8" y="512.6" font-size="13.42" text-anchor="middle" fill="#000" textLength="20.5" lengthAdjust="spacingAndGlyphs" >0.2</text>
<line x1="42.6" y1="409.20000000000005" x2="45" y2="409.20000000000005" stroke="#333" stroke-width="1" />
<text x="39.3" y="414.1" font-size="13.42" text-anchor="end" fill="#000" textLength="20.5" lengthAdjust="spacingAndGlyphs" >0.4</text>
<line x1="163.6" y1="499.2" x2="163.6" y2="502.2" stroke="#333" stroke-width="1" />
<text x="163.79999999999998" y="512.6" font-size="13.42" text-anchor="middle" fill="#000" textLength="20.5" lengthAdjust="spacingAndGlyphs" >0.4</text>
<line x1="42.6" y1="369.0" x2="45" y2="369.0" stroke="#333" stroke-width="1" />
<text x="39.3" y="373.9" font-size="13.42" text-anchor="end" fill="#000" textLength="20.5" lengthAdjust="spacingAndGlyphs" >0.6</text>
<line x1="217.6" y1="499.2" x2="217.6" y2="502.2" stroke="#333" stroke-width="1" />
<text x="217.79999999999998" y="512.6" font-size="13.42" text-anchor="middle" fill="#000" textLength="20.5" lengthAdjust="spacingAndGlyphs" >0.6</text>
<line x1="42.6" y1="328.8" x2="45" y2="328.8" stroke="#333" stroke-width="1" />
<text x="39.3" y="333.7" font-size="13.42" text-anchor="end" fill="#000" textLength="20.5" lengthAdjust="spacingAndGlyphs" >0.8</text>
<line x1="271.6" y1="499.2" x2="271.6" y2="502.2" stroke="#333" stroke-width="1" />
<text x="271.8" y="512.6" font-size="13.42" text-anchor="middle" fill="#000" textLength="20.5" lengthAdjust="spacingAndGlyphs" >0.8</text>
<line x1="42.6" y1="288.6" x2="45" y2="288.6" stroke="#333" stroke-width="1" />
<text x="39.3" y="293.5" font-size="13.42" text-anchor="end" fill="#000" textLength="20.5" lengthAdjust="spacingAndGlyphs" >1.0</text>
<line x1="325.6" y1="499.2" x2="325.6" y2="502.2" stroke="#333" stroke-width="1" />
<text x="325.8" y="512.6" font-size="13.42" text-anchor="middle" fill="#000" textLength="20.5" lengthAdjust="spacingAndGlyphs" >1.0</text>
<text x="190.75" y="273.6" font-size="13.52" text-anchor="middle" fill="#000" textLength="104.5" lengthAdjust="spacingAndGlyphs" >ROC Curve_Train</text>
<text x="190.25" y="528" font-size="13.42" text-anchor="middle" fill="#000" textLength="112.6" lengthAdjust="spacingAndGlyphs" >False Positive Rate</text>
<text x="0" y="0" font-size="13.4" text-anchor="middle" transform="translate(12.6,388.7) rotate(-90)" textLength="106.3" lengthAdjust="spacingAndGlyphs">True Positive Rate</text>
<rect x="141.4" y="427" width="191.99999999999997" height="66.5" rx="2" ry="2" fill="#fff" fill-opacity="0.8" stroke="#d0d0d0" stroke-width="1"/>
<line x1="144.4" y1="436.2" x2="168.4" y2="436.2" stroke="#E64B35" stroke-width="2.1" />
<text x="176.0" y="440.2" font-size="11.34" text-anchor="start" fill="#000" textLength="111.8" lengthAdjust="spacingAndGlyphs" >SVM (AUC = 0.9917)</text>
<line x1="144.4" y1="452.05" x2="168.4" y2="452.05" stroke="#40A33F" stroke-width="2.1" />
<text x="176.0" y="456.05" font-size="11.34" text-anchor="start" fill="#000" textLength="111.8" lengthAdjust="spacingAndGlyphs" >KNN (AUC = 0.9769)</text>
<line x1="144.4" y1="467.9" x2="168.4" y2="467.9" stroke="#4DBBD5" stroke-width="2.1" />
<text x="176.0" y="471.9" font-size="11.34" text-anchor="start" fill="#000" textLength="101.8" lengthAdjust="spacingAndGlyphs" >LR (AUC = 0.9965)</text>
<line x1="144.4" y1="483.75" x2="168.4" y2="483.75" stroke="#F39B7F" stroke-width="2.1" />
<text x="176.0" y="487.75" font-size="11.34" text-anchor="start" fill="#000" textLength="153.8" lengthAdjust="spacingAndGlyphs" >GaussianNB (AUC = 0.9807)</text>
<clipPath id="clipTest"><rect x="387" y="278.6" width="296" height="220.59999999999997"/></clipPath>
<g clip-path="url(#clipTest)">
<polyline points="400.4,489.6 400.4,365.7 400.4,352.2 404.8,352.2 409.0,340.0 409.0,305.4 409.0,298.0 427.8,298.0 427.8,293.1 441.4,293.1 441.4,288.8 670.4,288.6" fill="none" stroke="#E64B35" stroke-width="2.1" stroke-linejoin="round" />
<polyline points="400.4,489.6 400.4,435.0 404.8,411.3 405.7,365.7 410.0,357.0 411.7,320.0 413.6,312.0 414.0,302.2 432.7,302.0 445.8,292.7 471.7,292.7 495.2,289.2 670.4,288.6" fill="none" stroke="#40A33F" stroke-width="2.1" stroke-linejoin="round" />
<polyline points="400.4,489.6 400.4,410.0 400.4,365.7 404.8,365.7 404.8,339.6 409.4,339.6 409.4,306.3 412.1,306.3 418.5,300.6 418.5,293.1 441.4,293.1 441.4,288.8 518.7,288.6 670.4,288.6" fill="none" stroke="#4DBBD5" stroke-width="2.1" stroke-linejoin="round" />
<polyline points="400.4,489.6 400.4,411.3 404.8,411.3 404.8,334.1 413.9,334.1 413.9,302.2 459.8,302.1 459.8,297.8 473.7,297.8 473.7,293.3 519.8,293.3 519.8,288.6 670.4,288.6" fill="none" stroke="#F39B7F" stroke-width="2.1" stroke-linejoin="round" />
<line x1="400.4" y1="489.6" x2="670.4" y2="288.6" stroke="#000" stroke-width="2.3" stroke-dasharray="7.9 3.0" stroke-dashoffset="-2.2"/>
</g>
<rect x="387" y="278.6" width="296" height="220.59999999999997" stroke="#333" stroke-width="1.1" fill="none" />
<line x1="384" y1="489.6" x2="387" y2="489.6" stroke="#333" stroke-width="1" />
<text x="380.7" y="494.5" font-size="13.42" text-anchor="end" fill="#000" textLength="20.5" lengthAdjust="spacingAndGlyphs" >0.0</text>
<line x1="400.4" y1="499.2" x2="400.4" y2="502.2" stroke="#333" stroke-width="1" />
<text x="400.59999999999997" y="515.1" font-size="13.42" text-anchor="middle" fill="#000" textLength="20.5" lengthAdjust="spacingAndGlyphs" >0.0</text>
<line x1="384" y1="449.40000000000003" x2="387" y2="449.40000000000003" stroke="#333" stroke-width="1" />
<text x="380.7" y="454.3" font-size="13.42" text-anchor="end" fill="#000" textLength="20.5" lengthAdjust="spacingAndGlyphs" >0.2</text>
<line x1="454.4" y1="499.2" x2="454.4" y2="502.2" stroke="#333" stroke-width="1" />
<text x="454.59999999999997" y="515.1" font-size="13.42" text-anchor="middle" fill="#000" textLength="20.5" lengthAdjust="spacingAndGlyphs" >0.2</text>
<line x1="384" y1="409.20000000000005" x2="387" y2="409.20000000000005" stroke="#333" stroke-width="1" />
<text x="380.7" y="414.1" font-size="13.42" text-anchor="end" fill="#000" textLength="20.5" lengthAdjust="spacingAndGlyphs" >0.4</text>
<line x1="508.4" y1="499.2" x2="508.4" y2="502.2" stroke="#333" stroke-width="1" />
<text x="508.59999999999997" y="515.1" font-size="13.42" text-anchor="middle" fill="#000" textLength="20.5" lengthAdjust="spacingAndGlyphs" >0.4</text>
<line x1="384" y1="369.0" x2="387" y2="369.0" stroke="#333" stroke-width="1" />
<text x="380.7" y="373.9" font-size="13.42" text-anchor="end" fill="#000" textLength="20.5" lengthAdjust="spacingAndGlyphs" >0.6</text>
<line x1="562.4" y1="499.2" x2="562.4" y2="502.2" stroke="#333" stroke-width="1" />
<text x="562.6" y="515.1" font-size="13.42" text-anchor="middle" fill="#000" textLength="20.5" lengthAdjust="spacingAndGlyphs" >0.6</text>
<line x1="384" y1="328.8" x2="387" y2="328.8" stroke="#333" stroke-width="1" />
<text x="380.7" y="333.7" font-size="13.42" text-anchor="end" fill="#000" textLength="20.5" lengthAdjust="spacingAndGlyphs" >0.8</text>
<line x1="616.4" y1="499.2" x2="616.4" y2="502.2" stroke="#333" stroke-width="1" />
<text x="616.6" y="515.1" font-size="13.42" text-anchor="middle" fill="#000" textLength="20.5" lengthAdjust="spacingAndGlyphs" >0.8</text>
<line x1="384" y1="288.6" x2="387" y2="288.6" stroke="#333" stroke-width="1" />
<text x="380.7" y="293.5" font-size="13.42" text-anchor="end" fill="#000" textLength="20.5" lengthAdjust="spacingAndGlyphs" >1.0</text>
<line x1="670.4" y1="499.2" x2="670.4" y2="502.2" stroke="#333" stroke-width="1" />
<text x="670.6" y="515.1" font-size="13.42" text-anchor="middle" fill="#000" textLength="20.5" lengthAdjust="spacingAndGlyphs" >1.0</text>
<text x="535.5" y="273.6" font-size="13.52" text-anchor="middle" fill="#000" textLength="98.8" lengthAdjust="spacingAndGlyphs" >ROC Curve_Test</text>
<text x="535" y="529.5" font-size="13.42" text-anchor="middle" fill="#000" textLength="112.6" lengthAdjust="spacingAndGlyphs" >False Positive Rate</text>
<text x="0" y="0" font-size="13.4" text-anchor="middle" transform="translate(353.9,388.7) rotate(-90)" textLength="106.3" lengthAdjust="spacingAndGlyphs">True Positive Rate</text>
<rect x="486.0" y="427" width="191.39999999999998" height="66.5" rx="2" ry="2" fill="#fff" fill-opacity="0.8" stroke="#d0d0d0" stroke-width="1"/>
<line x1="489.0" y1="436.2" x2="513.0" y2="436.2" stroke="#E64B35" stroke-width="2.1" />
<text x="520.6" y="440.2" font-size="11.34" text-anchor="start" fill="#000" textLength="111.8" lengthAdjust="spacingAndGlyphs" >SVM (AUC = 0.9865)</text>
<line x1="489.0" y1="452.05" x2="513.0" y2="452.05" stroke="#40A33F" stroke-width="2.1" />
<text x="520.6" y="456.05" font-size="11.34" text-anchor="start" fill="#000" textLength="111.8" lengthAdjust="spacingAndGlyphs" >KNN (AUC = 0.9701)</text>
<line x1="489.0" y1="467.9" x2="513.0" y2="467.9" stroke="#4DBBD5" stroke-width="2.1" />
<text x="520.6" y="471.9" font-size="11.34" text-anchor="start" fill="#000" textLength="101.8" lengthAdjust="spacingAndGlyphs" >LR (AUC = 0.9846)</text>
<line x1="489.0" y1="483.75" x2="513.0" y2="483.75" stroke="#F39B7F" stroke-width="2.1" />
<text x="520.6" y="487.75" font-size="11.34" text-anchor="start" fill="#000" textLength="153.8" lengthAdjust="spacingAndGlyphs" >GaussianNB (AUC = 0.9642)</text>
<rect x="40.8" y="547.9" width="641.1" height="153.5" stroke="#bdbdbd" stroke-width="1.3" fill="none" />
<line x1="37.7" y1="694.8" x2="40.8" y2="694.8" stroke="#333" stroke-width="1" />
<text x="36.9" y="699.0999999999999" font-size="12.48" text-anchor="end" fill="#000" textLength="7.0" lengthAdjust="spacingAndGlyphs" >0</text>
<line x1="37.7" y1="661.0999999999999" x2="40.8" y2="661.0999999999999" stroke="#333" stroke-width="1" />
<text x="36.9" y="665.3999999999999" font-size="12.48" text-anchor="end" fill="#000" textLength="7.0" lengthAdjust="spacingAndGlyphs" >2</text>
<line x1="37.7" y1="627.4" x2="40.8" y2="627.4" stroke="#333" stroke-width="1" />
<text x="36.9" y="631.6999999999999" font-size="12.48" text-anchor="end" fill="#000" textLength="7.0" lengthAdjust="spacingAndGlyphs" >4</text>
<line x1="37.7" y1="593.6999999999999" x2="40.8" y2="593.6999999999999" stroke="#333" stroke-width="1" />
<text x="36.9" y="597.9999999999999" font-size="12.48" text-anchor="end" fill="#000" textLength="7.0" lengthAdjust="spacingAndGlyphs" >6</text>
<line x1="37.7" y1="560.0" x2="40.8" y2="560.0" stroke="#333" stroke-width="1" />
<text x="36.9" y="564.3" font-size="12.48" text-anchor="end" fill="#000" textLength="7.0" lengthAdjust="spacingAndGlyphs" >8</text>
<clipPath id="clipE"><rect x="40.8" y="547.9" width="641.1" height="153.5"/></clipPath>
<g clip-path="url(#clipE)">
<line x1="51.449999999999996" y1="634.5" x2="51.449999999999996" y2="658.2" stroke="#EE6F63" stroke-width="1.5" />
<line x1="51.449999999999996" y1="683.6" x2="51.449999999999996" y2="694.5" stroke="#EE6F63" stroke-width="1.5" />
<rect x="47.15" y="658.2" width="8.6" height="25.399999999999977" fill="#fff" stroke="#EE6F63" stroke-width="1.5"/>
<line x1="47.15" y1="667.9" x2="55.74999999999999" y2="667.9" stroke="#EE6F63" stroke-width="2.4" />
<circle cx="51.449999999999996" cy="617.7" r="1.6" fill="#EE6F63"/>
<circle cx="51.449999999999996" cy="609.1" r="1.6" fill="#EE6F63"/>
<circle cx="51.449999999999996" cy="599.9" r="1.6" fill="#EE6F63"/>
<line x1="61.35" y1="629.6" x2="61.35" y2="663.8" stroke="#168A92" stroke-width="1.5" />
<line x1="61.35" y1="689.4" x2="61.35" y2="694.5" stroke="#168A92" stroke-width="1.5" />
<rect x="57.050000000000004" y="663.8" width="8.6" height="25.600000000000023" fill="#fff" stroke="#168A92" stroke-width="1.5"/>
<line x1="57.050000000000004" y1="680.8" x2="65.65" y2="680.8" stroke="#168A92" stroke-width="2.4" />
<circle cx="61.35" cy="625.3" r="1.6" fill="#168A92"/>
<circle cx="61.35" cy="614" r="1.6" fill="#168A92"/>
<circle cx="61.35" cy="613.2" r="1.6" fill="#168A92"/>
<circle cx="61.35" cy="606.6" r="1.6" fill="#168A92"/>
<line x1="77.97" y1="582.9" x2="77.97" y2="623.4" stroke="#EE6F63" stroke-width="1.5" />
<line x1="77.97" y1="655.6" x2="77.97" y2="694.5" stroke="#EE6F63" stroke-width="1.5" />
<rect x="73.67" y="623.4" width="8.6" height="32.200000000000045" fill="#fff" stroke="#EE6F63" stroke-width="1.5"/>
<line x1="73.67" y1="638.8" x2="82.27" y2="638.8" stroke="#EE6F63" stroke-width="2.4" />
<circle cx="77.97" cy="554.2" r="1.6" fill="#EE6F63"/>
<circle cx="77.97" cy="566.1" r="1.6" fill="#EE6F63"/>
<circle cx="77.97" cy="567.5" r="1.6" fill="#EE6F63"/>
<line x1="87.87" y1="569.6" x2="87.87" y2="636.1" stroke="#168A92" stroke-width="1.5" />
<line x1="87.87" y1="685.3" x2="87.87" y2="694.5" stroke="#168A92" stroke-width="1.5" />
<rect x="83.57000000000001" y="636.1" width="8.6" height="49.19999999999993" fill="#fff" stroke="#168A92" stroke-width="1.5"/>
<line x1="83.57000000000001" y1="656.6" x2="92.17" y2="656.6" stroke="#168A92" stroke-width="2.4" />
<text x="82.92" y="555.5" font-size="9.36" text-anchor="middle" fill="#222" >**</text>
<line x1="104.49" y1="658" x2="104.49" y2="668.5" stroke="#EE6F63" stroke-width="1.5" />
<line x1="104.49" y1="690" x2="104.49" y2="692" stroke="#EE6F63" stroke-width="1.5" />
<rect x="100.19" y="668.5" width="8.6" height="21.5" fill="#fff" stroke="#EE6F63" stroke-width="1.5"/>
<line x1="100.19" y1="679.5" x2="108.78999999999999" y2="679.5" stroke="#EE6F63" stroke-width="2.4" />
<circle cx="104.49" cy="611.6" r="1.6" fill="#EE6F63"/>
<circle cx="104.49" cy="615.7" r="1.6" fill="#EE6F63"/>
<circle cx="104.49" cy="622.2" r="1.6" fill="#EE6F63"/>
<circle cx="104.49" cy="623.8" r="1.6" fill="#EE6F63"/>
<circle cx="104.49" cy="635.7" r="1.6" fill="#EE6F63"/>
<line x1="114.39" y1="635.5" x2="114.39" y2="662.8" stroke="#168A92" stroke-width="1.5" />
<line x1="114.39" y1="682.8" x2="114.39" y2="692" stroke="#168A92" stroke-width="1.5" />
<rect x="110.09" y="662.8" width="8.6" height="20.0" fill="#fff" stroke="#168A92" stroke-width="1.5"/>
<line x1="110.09" y1="675.5" x2="118.69" y2="675.5" stroke="#168A92" stroke-width="2.4" />
<circle cx="114.39" cy="583.3" r="1.6" fill="#168A92"/>
<circle cx="114.39" cy="593.5" r="1.6" fill="#168A92"/>
<circle cx="114.39" cy="599.9" r="1.6" fill="#168A92"/>
<circle cx="114.39" cy="601.3" r="1.6" fill="#168A92"/>
<circle cx="114.39" cy="626.9" r="1.6" fill="#168A92"/>
<circle cx="114.39" cy="629" r="1.6" fill="#168A92"/>
<line x1="131.01000000000002" y1="691.8" x2="131.01000000000002" y2="691.8" stroke="#EE6F63" stroke-width="1.5" />
<line x1="131.01000000000002" y1="694.5" x2="131.01000000000002" y2="694.5" stroke="#EE6F63" stroke-width="1.5" />
<rect x="126.71000000000002" y="691.8" width="8.6" height="2.7000000000000455" fill="#fff" stroke="#EE6F63" stroke-width="1.5"/>
<line x1="126.71000000000002" y1="693.5" x2="135.31000000000003" y2="693.5" stroke="#EE6F63" stroke-width="2.4" />
<circle cx="131.01000000000002" cy="676" r="1.6" fill="#EE6F63"/>
<circle cx="131.01000000000002" cy="679.1" r="1.6" fill="#EE6F63"/>
<circle cx="131.01000000000002" cy="687.7" r="1.6" fill="#EE6F63"/>
<line x1="140.91" y1="678.5" x2="140.91" y2="686.9" stroke="#168A92" stroke-width="1.5" />
<line x1="140.91" y1="694.1" x2="140.91" y2="694.5" stroke="#168A92" stroke-width="1.5" />
<rect x="136.60999999999999" y="686.9" width="8.6" height="7.2000000000000455" fill="#fff" stroke="#168A92" stroke-width="1.5"/>
<line x1="136.60999999999999" y1="691" x2="145.21" y2="691" stroke="#168A92" stroke-width="2.4" />
<circle cx="140.91" cy="639.6" r="1.6" fill="#168A92"/>
<circle cx="140.91" cy="658.2" r="1.6" fill="#168A92"/>
<circle cx="140.91" cy="669.3" r="1.6" fill="#168A92"/>
<text x="135.96" y="555.5" font-size="9.36" text-anchor="middle" fill="#222" >*</text>
<line x1="157.53" y1="673" x2="157.53" y2="681.8" stroke="#EE6F63" stroke-width="1.5" />
<line x1="157.53" y1="693.5" x2="157.53" y2="694.5" stroke="#EE6F63" stroke-width="1.5" />
<rect x="153.23" y="681.8" width="8.6" height="11.700000000000045" fill="#fff" stroke="#EE6F63" stroke-width="1.5"/>
<line x1="153.23" y1="691" x2="161.83" y2="691" stroke="#EE6F63" stroke-width="2.4" />
<circle cx="157.53" cy="652.1" r="1.6" fill="#EE6F63"/>
<circle cx="157.53" cy="661.3" r="1.6" fill="#EE6F63"/>
<circle cx="157.53" cy="664.4" r="1.6" fill="#EE6F63"/>
<line x1="167.42999999999998" y1="682.8" x2="167.42999999999998" y2="689.4" stroke="#168A92" stroke-width="1.5" />
<line x1="167.42999999999998" y1="694.5" x2="167.42999999999998" y2="694.5" stroke="#168A92" stroke-width="1.5" />
<rect x="163.12999999999997" y="689.4" width="8.6" height="5.100000000000023" fill="#fff" stroke="#168A92" stroke-width="1.5"/>
<line x1="163.12999999999997" y1="691" x2="171.73" y2="691" stroke="#168A92" stroke-width="2.4" />
<circle cx="167.42999999999998" cy="659.1" r="1.6" fill="#168A92"/>
<circle cx="167.42999999999998" cy="661.1" r="1.6" fill="#168A92"/>
<circle cx="167.42999999999998" cy="668.9" r="1.6" fill="#168A92"/>
<circle cx="167.42999999999998" cy="670.3" r="1.6" fill="#168A92"/>
<circle cx="167.42999999999998" cy="675.5" r="1.6" fill="#168A92"/>
<text x="162.48" y="555.5" font-size="9.36" text-anchor="middle" fill="#222" >*</text>
<line x1="184.05" y1="605.8" x2="184.05" y2="638.8" stroke="#EE6F63" stroke-width="1.5" />
<line x1="184.05" y1="669.9" x2="184.05" y2="693.5" stroke="#EE6F63" stroke-width="1.5" />
<rect x="179.75" y="638.8" width="8.6" height="31.100000000000023" fill="#fff" stroke="#EE6F63" stroke-width="1.5"/>
<line x1="179.75" y1="652.9" x2="188.35000000000002" y2="652.9" stroke="#EE6F63" stroke-width="2.4" />
<circle cx="184.05" cy="575.3" r="1.6" fill="#EE6F63"/>
<line x1="193.95" y1="626.9" x2="193.95" y2="655.6" stroke="#168A92" stroke-width="1.5" />
<line x1="193.95" y1="680.8" x2="193.95" y2="693.9" stroke="#168A92" stroke-width="1.5" />
<rect x="189.64999999999998" y="655.6" width="8.6" height="25.199999999999932" fill="#fff" stroke="#168A92" stroke-width="1.5"/>
<line x1="189.64999999999998" y1="668.5" x2="198.25" y2="668.5" stroke="#168A92" stroke-width="2.4" />
<circle cx="193.95" cy="589.4" r="1.6" fill="#168A92"/>
<circle cx="193.95" cy="598.2" r="1.6" fill="#168A92"/>
<circle cx="193.95" cy="599.7" r="1.6" fill="#168A92"/>
<circle cx="193.95" cy="614.6" r="1.6" fill="#168A92"/>
<text x="189.0" y="555.5" font-size="9.36" text-anchor="middle" fill="#222" >*</text>
<line x1="210.57000000000002" y1="621.4" x2="210.57000000000002" y2="649.4" stroke="#EE6F63" stroke-width="1.5" />
<line x1="210.57000000000002" y1="672" x2="210.57000000000002" y2="687.3" stroke="#EE6F63" stroke-width="1.5" />
<rect x="206.27" y="649.4" width="8.6" height="22.600000000000023" fill="#fff" stroke="#EE6F63" stroke-width="1.5"/>
<line x1="206.27" y1="666.2" x2="214.87000000000003" y2="666.2" stroke="#EE6F63" stroke-width="2.4" />
<circle cx="210.57000000000002" cy="583.5" r="1.6" fill="#EE6F63"/>
<line x1="220.47" y1="618.7" x2="220.47" y2="640.2" stroke="#168A92" stroke-width="1.5" />
<line x1="220.47" y1="666.4" x2="220.47" y2="689.8" stroke="#168A92" stroke-width="1.5" />
<rect x="216.17" y="640.2" width="8.6" height="26.199999999999932" fill="#fff" stroke="#168A92" stroke-width="1.5"/>
<line x1="216.17" y1="657.2" x2="224.77" y2="657.2" stroke="#168A92" stroke-width="2.4" />
<circle cx="220.47" cy="564.9" r="1.6" fill="#168A92"/>
<circle cx="220.47" cy="570.6" r="1.6" fill="#168A92"/>
<circle cx="220.47" cy="581.5" r="1.6" fill="#168A92"/>
<circle cx="220.47" cy="597.2" r="1.6" fill="#168A92"/>
<circle cx="220.47" cy="600.3" r="1.6" fill="#168A92"/>
<text x="215.52" y="555.5" font-size="9.36" text-anchor="middle" fill="#222" >*</text>
<line x1="237.09" y1="628.4" x2="237.09" y2="654.2" stroke="#EE6F63" stroke-width="1.5" />
<line x1="237.09" y1="673.6" x2="237.09" y2="691" stroke="#EE6F63" stroke-width="1.5" />
<rect x="232.79" y="654.2" width="8.6" height="19.399999999999977" fill="#fff" stroke="#EE6F63" stroke-width="1.5"/>
<line x1="232.79" y1="667.9" x2="241.39000000000001" y2="667.9" stroke="#EE6F63" stroke-width="2.4" />
<circle cx="237.09" cy="588.6" r="1.6" fill="#EE6F63"/>
<circle cx="237.09" cy="604.4" r="1.6" fill="#EE6F63"/>
<circle cx="237.09" cy="610.5" r="1.6" fill="#EE6F63"/>
<line x1="246.98999999999998" y1="641.3" x2="246.98999999999998" y2="662.3" stroke="#168A92" stroke-width="1.5" />
<line x1="246.98999999999998" y1="681.2" x2="246.98999999999998" y2="691.4" stroke="#168A92" stroke-width="1.5" />
<rect x="242.68999999999997" y="662.3" width="8.6" height="18.90000000000009" fill="#fff" stroke="#168A92" stroke-width="1.5"/>
<line x1="242.68999999999997" y1="674" x2="251.29" y2="674" stroke="#168A92" stroke-width="2.4" />
<circle cx="246.98999999999998" cy="603.8" r="1.6" fill="#168A92"/>
<circle cx="246.98999999999998" cy="613.6" r="1.6" fill="#168A92"/>
<circle cx="246.98999999999998" cy="614" r="1.6" fill="#168A92"/>
<text x="242.04" y="555.5" font-size="9.36" text-anchor="middle" fill="#222" >*</text>
<line x1="263.61" y1="579.8" x2="263.61" y2="628.4" stroke="#EE6F63" stroke-width="1.5" />
<line x1="263.61" y1="662.3" x2="263.61" y2="684.9" stroke="#EE6F63" stroke-width="1.5" />
<rect x="259.31" y="628.4" width="8.6" height="33.89999999999998" fill="#fff" stroke="#EE6F63" stroke-width="1.5"/>
<line x1="259.31" y1="645.8" x2="267.91" y2="645.8" stroke="#EE6F63" stroke-width="2.4" />
<circle cx="263.61" cy="577.2" r="1.6" fill="#EE6F63"/>
<line x1="273.51" y1="607.9" x2="273.51" y2="629.4" stroke="#168A92" stroke-width="1.5" />
<line x1="273.51" y1="658.2" x2="273.51" y2="678.5" stroke="#168A92" stroke-width="1.5" />
<rect x="269.21" y="629.4" width="8.6" height="28.800000000000068" fill="#fff" stroke="#168A92" stroke-width="1.5"/>
<line x1="269.21" y1="647.4" x2="277.81" y2="647.4" stroke="#168A92" stroke-width="2.4" />
<circle cx="273.51" cy="559.3" r="1.6" fill="#168A92"/>
<circle cx="273.51" cy="561.4" r="1.6" fill="#168A92"/>
<circle cx="273.51" cy="562.8" r="1.6" fill="#168A92"/>
<circle cx="273.51" cy="567.5" r="1.6" fill="#168A92"/>
<circle cx="273.51" cy="569.2" r="1.6" fill="#168A92"/>
<line x1="290.13" y1="676.1" x2="290.13" y2="685.7" stroke="#EE6F63" stroke-width="1.5" />
<line x1="290.13" y1="693.5" x2="290.13" y2="694.5" stroke="#EE6F63" stroke-width="1.5" />
<rect x="285.83" y="685.7" width="8.6" height="7.7999999999999545" fill="#fff" stroke="#EE6F63" stroke-width="1.5"/>
<line x1="285.83" y1="691" x2="294.43" y2="691" stroke="#EE6F63" stroke-width="2.4" />
<circle cx="290.13" cy="647.4" r="1.6" fill="#EE6F63"/>
<circle cx="290.13" cy="665.8" r="1.6" fill="#EE6F63"/>
<line x1="300.03" y1="660.3" x2="300.03" y2="678.1" stroke="#168A92" stroke-width="1.5" />
<line x1="300.03" y1="692" x2="300.03" y2="694.1" stroke="#168A92" stroke-width="1.5" />
<rect x="295.72999999999996" y="678.1" width="8.6" height="13.899999999999977" fill="#fff" stroke="#168A92" stroke-width="1.5"/>
<line x1="295.72999999999996" y1="689.4" x2="304.33" y2="689.4" stroke="#168A92" stroke-width="2.4" />
<circle cx="300.03" cy="631.6" r="1.6" fill="#168A92"/>
<text x="295.08" y="555.5" font-size="9.36" text-anchor="middle" fill="#222" >*</text>
<line x1="316.65" y1="682.2" x2="316.65" y2="689.4" stroke="#EE6F63" stroke-width="1.5" />
<line x1="316.65" y1="694.1" x2="316.65" y2="694.5" stroke="#EE6F63" stroke-width="1.5" />
<rect x="312.34999999999997" y="689.4" width="8.6" height="4.7000000000000455" fill="#fff" stroke="#EE6F63" stroke-width="1.5"/>
<line x1="312.34999999999997" y1="691.4" x2="320.95" y2="691.4" stroke="#EE6F63" stroke-width="2.4" />
<circle cx="316.65" cy="655.6" r="1.6" fill="#EE6F63"/>
<circle cx="316.65" cy="657.2" r="1.6" fill="#EE6F63"/>
<line x1="326.54999999999995" y1="676.1" x2="326.54999999999995" y2="685.5" stroke="#168A92" stroke-width="1.5" />
<line x1="326.54999999999995" y1="692.9" x2="326.54999999999995" y2="694.5" stroke="#168A92" stroke-width="1.5" />
<rect x="322.24999999999994" y="685.5" width="8.6" height="7.399999999999977" fill="#fff" stroke="#168A92" stroke-width="1.5"/>
<line x1="322.24999999999994" y1="690.4" x2="330.84999999999997" y2="690.4" stroke="#168A92" stroke-width="2.4" />
<circle cx="326.54999999999995" cy="623.4" r="1.6" fill="#168A92"/>
<circle cx="326.54999999999995" cy="659.7" r="1.6" fill="#168A92"/>
<circle cx="326.54999999999995" cy="661.7" r="1.6" fill="#168A92"/>
<circle cx="326.54999999999995" cy="668.5" r="1.6" fill="#168A92"/>
<circle cx="326.54999999999995" cy="671.6" r="1.6" fill="#168A92"/>
<line x1="343.16999999999996" y1="660.3" x2="343.16999999999996" y2="672" stroke="#EE6F63" stroke-width="1.5" />
<line x1="343.16999999999996" y1="687.3" x2="343.16999999999996" y2="692.9" stroke="#EE6F63" stroke-width="1.5" />
<rect x="338.86999999999995" y="672" width="8.6" height="15.299999999999955" fill="#fff" stroke="#EE6F63" stroke-width="1.5"/>
<line x1="338.86999999999995" y1="677.1" x2="347.46999999999997" y2="677.1" stroke="#EE6F63" stroke-width="2.4" />
<circle cx="343.16999999999996" cy="617.3" r="1.6" fill="#EE6F63"/>
<circle cx="343.16999999999996" cy="623.8" r="1.6" fill="#EE6F63"/>
<circle cx="343.16999999999996" cy="632.7" r="1.6" fill="#EE6F63"/>
<circle cx="343.16999999999996" cy="643.3" r="1.6" fill="#EE6F63"/>
<line x1="353.06999999999994" y1="643.3" x2="353.06999999999994" y2="666.4" stroke="#168A92" stroke-width="1.5" />
<line x1="353.06999999999994" y1="685.7" x2="353.06999999999994" y2="691.8" stroke="#168A92" stroke-width="1.5" />
<rect x="348.7699999999999" y="666.4" width="8.6" height="19.300000000000068" fill="#fff" stroke="#168A92" stroke-width="1.5"/>
<line x1="348.7699999999999" y1="677.7" x2="357.36999999999995" y2="677.7" stroke="#168A92" stroke-width="2.4" />
<circle cx="353.06999999999994" cy="605.8" r="1.6" fill="#168A92"/>
<circle cx="353.06999999999994" cy="606.4" r="1.6" fill="#168A92"/>
<circle cx="353.06999999999994" cy="619.3" r="1.6" fill="#168A92"/>
<circle cx="353.06999999999994" cy="622.4" r="1.6" fill="#168A92"/>
<line x1="369.69" y1="633.7" x2="369.69" y2="663.2" stroke="#EE6F63" stroke-width="1.5" />
<line x1="369.69" y1="689.4" x2="369.69" y2="694.1" stroke="#EE6F63" stroke-width="1.5" />
<rect x="365.39" y="663.2" width="8.6" height="26.199999999999932" fill="#fff" stroke="#EE6F63" stroke-width="1.5"/>
<line x1="365.39" y1="682.2" x2="373.99" y2="682.2" stroke="#EE6F63" stroke-width="2.4" />
<circle cx="369.69" cy="604.4" r="1.6" fill="#EE6F63"/>
<circle cx="369.69" cy="608.1" r="1.6" fill="#EE6F63"/>
<circle cx="369.69" cy="624.3" r="1.6" fill="#EE6F63"/>
<line x1="379.59" y1="663.8" x2="379.59" y2="679.5" stroke="#168A92" stroke-width="1.5" />
<line x1="379.59" y1="694.1" x2="379.59" y2="694.5" stroke="#168A92" stroke-width="1.5" />
<rect x="375.28999999999996" y="679.5" width="8.6" height="14.600000000000023" fill="#fff" stroke="#168A92" stroke-width="1.5"/>
<line x1="375.28999999999996" y1="691" x2="383.89" y2="691" stroke="#168A92" stroke-width="2.4" />
<circle cx="379.59" cy="629" r="1.6" fill="#168A92"/>
<circle cx="379.59" cy="643.3" r="1.6" fill="#168A92"/>
<circle cx="379.59" cy="650.1" r="1.6" fill="#168A92"/>
<circle cx="379.59" cy="651.5" r="1.6" fill="#168A92"/>
<text x="374.64" y="555.5" font-size="9.36" text-anchor="middle" fill="#222" >*</text>
<line x1="396.21" y1="651.5" x2="396.21" y2="668.3" stroke="#EE6F63" stroke-width="1.5" />
<line x1="396.21" y1="689.4" x2="396.21" y2="693.5" stroke="#EE6F63" stroke-width="1.5" />
<rect x="391.90999999999997" y="668.3" width="8.6" height="21.100000000000023" fill="#fff" stroke="#EE6F63" stroke-width="1.5"/>
<line x1="391.90999999999997" y1="679.5" x2="400.51" y2="679.5" stroke="#EE6F63" stroke-width="2.4" />
<circle cx="396.21" cy="636.1" r="1.6" fill="#EE6F63"/>
<line x1="406.10999999999996" y1="629" x2="406.10999999999996" y2="659.7" stroke="#168A92" stroke-width="1.5" />
<line x1="406.10999999999996" y1="681.6" x2="406.10999999999996" y2="694.1" stroke="#168A92" stroke-width="1.5" />
<rect x="401.80999999999995" y="659.7" width="8.6" height="21.899999999999977" fill="#fff" stroke="#168A92" stroke-width="1.5"/>
<line x1="401.80999999999995" y1="673.6" x2="410.40999999999997" y2="673.6" stroke="#168A92" stroke-width="2.4" />
<circle cx="406.10999999999996" cy="580.8" r="1.6" fill="#168A92"/>
<circle cx="406.10999999999996" cy="595.2" r="1.6" fill="#168A92"/>
<circle cx="406.10999999999996" cy="608.9" r="1.6" fill="#168A92"/>
<circle cx="406.10999999999996" cy="619.3" r="1.6" fill="#168A92"/>
<text x="401.15999999999997" y="555.5" font-size="9.36" text-anchor="middle" fill="#222" >**</text>
<line x1="422.72999999999996" y1="605.8" x2="422.72999999999996" y2="637.2" stroke="#EE6F63" stroke-width="1.5" />
<line x1="422.72999999999996" y1="668.5" x2="422.72999999999996" y2="688.4" stroke="#EE6F63" stroke-width="1.5" />
<rect x="418.42999999999995" y="637.2" width="8.6" height="31.299999999999955" fill="#fff" stroke="#EE6F63" stroke-width="1.5"/>
<line x1="418.42999999999995" y1="653.1" x2="427.03" y2="653.1" stroke="#EE6F63" stroke-width="2.4" />
<circle cx="422.72999999999996" cy="564.9" r="1.6" fill="#EE6F63"/>
<circle cx="422.72999999999996" cy="584.9" r="1.6" fill="#EE6F63"/>
<circle cx="422.72999999999996" cy="586.6" r="1.6" fill="#EE6F63"/>
<line x1="432.62999999999994" y1="600.7" x2="432.62999999999994" y2="633.7" stroke="#168A92" stroke-width="1.5" />
<line x1="432.62999999999994" y1="663.2" x2="432.62999999999994" y2="681.6" stroke="#168A92" stroke-width="1.5" />
<rect x="428.3299999999999" y="633.7" width="8.6" height="29.5" fill="#fff" stroke="#168A92" stroke-width="1.5"/>
<line x1="428.3299999999999" y1="646.4" x2="436.92999999999995" y2="646.4" stroke="#168A92" stroke-width="2.4" />
<circle cx="432.62999999999994" cy="565.5" r="1.6" fill="#168A92"/>
<circle cx="432.62999999999994" cy="567.5" r="1.6" fill="#168A92"/>
<circle cx="432.62999999999994" cy="579.2" r="1.6" fill="#168A92"/>
<line x1="449.25" y1="645" x2="449.25" y2="670.5" stroke="#EE6F63" stroke-width="1.5" />
<line x1="449.25" y1="689.4" x2="449.25" y2="693.5" stroke="#EE6F63" stroke-width="1.5" />
<rect x="444.95" y="670.5" width="8.6" height="18.899999999999977" fill="#fff" stroke="#EE6F63" stroke-width="1.5"/>
<line x1="444.95" y1="682.8" x2="453.55" y2="682.8" stroke="#EE6F63" stroke-width="2.4" />
<circle cx="449.25" cy="624.9" r="1.6" fill="#EE6F63"/>
<circle cx="449.25" cy="633.5" r="1.6" fill="#EE6F63"/>
<line x1="459.15" y1="667.3" x2="459.15" y2="679.8" stroke="#168A92" stroke-width="1.5" />
<line x1="459.15" y1="690" x2="459.15" y2="693.9" stroke="#168A92" stroke-width="1.5" />
<rect x="454.84999999999997" y="679.8" width="8.6" height="10.200000000000045" fill="#fff" stroke="#168A92" stroke-width="1.5"/>
<line x1="454.84999999999997" y1="685.7" x2="463.45" y2="685.7" stroke="#168A92" stroke-width="2.4" />
<circle cx="459.15" cy="619.3" r="1.6" fill="#168A92"/>
<circle cx="459.15" cy="626.9" r="1.6" fill="#168A92"/>
<circle cx="459.15" cy="636.1" r="1.6" fill="#168A92"/>
<circle cx="459.15" cy="649.4" r="1.6" fill="#168A92"/>
<circle cx="459.15" cy="652.9" r="1.6" fill="#168A92"/>
<circle cx="459.15" cy="657.2" r="1.6" fill="#168A92"/>
<line x1="475.77" y1="681.2" x2="475.77" y2="687.9" stroke="#EE6F63" stroke-width="1.5" />
<line x1="475.77" y1="694.1" x2="475.77" y2="694.5" stroke="#EE6F63" stroke-width="1.5" />
<rect x="471.46999999999997" y="687.9" width="8.6" height="6.2000000000000455" fill="#fff" stroke="#EE6F63" stroke-width="1.5"/>
<line x1="471.46999999999997" y1="691.4" x2="480.07" y2="691.4" stroke="#EE6F63" stroke-width="2.4" />
<circle cx="475.77" cy="651.9" r="1.6" fill="#EE6F63"/>
<circle cx="475.77" cy="657.6" r="1.6" fill="#EE6F63"/>
<circle cx="475.77" cy="662.8" r="1.6" fill="#EE6F63"/>
<circle cx="475.77" cy="677.7" r="1.6" fill="#EE6F63"/>
<line x1="485.66999999999996" y1="682.6" x2="485.66999999999996" y2="687.7" stroke="#168A92" stroke-width="1.5" />
<line x1="485.66999999999996" y1="693.5" x2="485.66999999999996" y2="694.5" stroke="#168A92" stroke-width="1.5" />
<rect x="481.36999999999995" y="687.7" width="8.6" height="5.7999999999999545" fill="#fff" stroke="#168A92" stroke-width="1.5"/>
<line x1="481.36999999999995" y1="690.8" x2="489.96999999999997" y2="690.8" stroke="#168A92" stroke-width="2.4" />
<circle cx="485.66999999999996" cy="665.2" r="1.6" fill="#168A92"/>
<circle cx="485.66999999999996" cy="668.5" r="1.6" fill="#168A92"/>
<circle cx="485.66999999999996" cy="674.6" r="1.6" fill="#168A92"/>
<circle cx="485.66999999999996" cy="677.1" r="1.6" fill="#168A92"/>
<line x1="502.28999999999996" y1="682.8" x2="502.28999999999996" y2="686.3" stroke="#EE6F63" stroke-width="1.5" />
<line x1="502.28999999999996" y1="692.9" x2="502.28999999999996" y2="694.5" stroke="#EE6F63" stroke-width="1.5" />
<rect x="497.98999999999995" y="686.3" width="8.6" height="6.600000000000023" fill="#fff" stroke="#EE6F63" stroke-width="1.5"/>
<line x1="497.98999999999995" y1="689.4" x2="506.59" y2="689.4" stroke="#EE6F63" stroke-width="2.4" />
<circle cx="502.28999999999996" cy="647.8" r="1.6" fill="#EE6F63"/>
<circle cx="502.28999999999996" cy="670.3" r="1.6" fill="#EE6F63"/>
<circle cx="502.28999999999996" cy="676.1" r="1.6" fill="#EE6F63"/>
<circle cx="502.28999999999996" cy="677.7" r="1.6" fill="#EE6F63"/>
<line x1="512.1899999999999" y1="673.4" x2="512.1899999999999" y2="683.6" stroke="#168A92" stroke-width="1.5" />
<line x1="512.1899999999999" y1="692" x2="512.1899999999999" y2="694" stroke="#168A92" stroke-width="1.5" />
<rect x="507.88999999999993" y="683.6" width="8.6" height="8.399999999999977" fill="#fff" stroke="#168A92" stroke-width="1.5"/>
<line x1="507.88999999999993" y1="689.4" x2="516.4899999999999" y2="689.4" stroke="#168A92" stroke-width="2.4" />
<circle cx="512.1899999999999" cy="634.5" r="1.6" fill="#168A92"/>
<circle cx="512.1899999999999" cy="647" r="1.6" fill="#168A92"/>
<circle cx="512.1899999999999" cy="654.2" r="1.6" fill="#168A92"/>
<circle cx="512.1899999999999" cy="661.3" r="1.6" fill="#168A92"/>
<line x1="528.81" y1="627.3" x2="528.81" y2="659.1" stroke="#EE6F63" stroke-width="1.5" />
<line x1="528.81" y1="687.3" x2="528.81" y2="693.5" stroke="#EE6F63" stroke-width="1.5" />
<rect x="524.51" y="659.1" width="8.6" height="28.199999999999932" fill="#fff" stroke="#EE6F63" stroke-width="1.5"/>
<line x1="524.51" y1="675.5" x2="533.1099999999999" y2="675.5" stroke="#EE6F63" stroke-width="2.4" />
<circle cx="528.81" cy="607.5" r="1.6" fill="#EE6F63"/>
<line x1="538.71" y1="608.9" x2="538.71" y2="646.4" stroke="#168A92" stroke-width="1.5" />
<line x1="538.71" y1="673.6" x2="538.71" y2="693.9" stroke="#168A92" stroke-width="1.5" />
<rect x="534.4100000000001" y="646.4" width="8.6" height="27.200000000000045" fill="#fff" stroke="#168A92" stroke-width="1.5"/>
<line x1="534.4100000000001" y1="662.8" x2="543.01" y2="662.8" stroke="#168A92" stroke-width="2.4" />
<circle cx="538.71" cy="584.9" r="1.6" fill="#168A92"/>
<circle cx="538.71" cy="587" r="1.6" fill="#168A92"/>
<text x="533.76" y="555.5" font-size="9.36" text-anchor="middle" fill="#222" >**</text>
<line x1="555.3299999999999" y1="655" x2="555.3299999999999" y2="672.4" stroke="#EE6F63" stroke-width="1.5" />
<line x1="555.3299999999999" y1="688.4" x2="555.3299999999999" y2="694.1" stroke="#EE6F63" stroke-width="1.5" />
<rect x="551.03" y="672.4" width="8.6" height="16.0" fill="#fff" stroke="#EE6F63" stroke-width="1.5"/>
<line x1="551.03" y1="680.2" x2="559.6299999999999" y2="680.2" stroke="#EE6F63" stroke-width="2.4" />
<circle cx="555.3299999999999" cy="611" r="1.6" fill="#EE6F63"/>
<circle cx="555.3299999999999" cy="613.6" r="1.6" fill="#EE6F63"/>
<circle cx="555.3299999999999" cy="617.7" r="1.6" fill="#EE6F63"/>
<line x1="565.23" y1="637.8" x2="565.23" y2="663.4" stroke="#168A92" stroke-width="1.5" />
<line x1="565.23" y1="682.6" x2="565.23" y2="694.1" stroke="#168A92" stroke-width="1.5" />
<rect x="560.9300000000001" y="663.4" width="8.6" height="19.200000000000045" fill="#fff" stroke="#168A92" stroke-width="1.5"/>
<line x1="560.9300000000001" y1="675.5" x2="569.53" y2="675.5" stroke="#168A92" stroke-width="2.4" />
<circle cx="565.23" cy="599.3" r="1.6" fill="#168A92"/>
<circle cx="565.23" cy="603" r="1.6" fill="#168A92"/>
<circle cx="565.23" cy="616.1" r="1.6" fill="#168A92"/>
<circle cx="565.23" cy="627.5" r="1.6" fill="#168A92"/>
<circle cx="565.23" cy="630" r="1.6" fill="#168A92"/>
<line x1="581.8499999999999" y1="635.1" x2="581.8499999999999" y2="666.2" stroke="#EE6F63" stroke-width="1.5" />
<line x1="581.8499999999999" y1="689.4" x2="581.8499999999999" y2="694.1" stroke="#EE6F63" stroke-width="1.5" />
<rect x="577.55" y="666.2" width="8.6" height="23.199999999999932" fill="#fff" stroke="#EE6F63" stroke-width="1.5"/>
<line x1="577.55" y1="683.2" x2="586.1499999999999" y2="683.2" stroke="#EE6F63" stroke-width="2.4" />
<circle cx="581.8499999999999" cy="615.7" r="1.6" fill="#EE6F63"/>
<circle cx="581.8499999999999" cy="624.9" r="1.6" fill="#EE6F63"/>
<circle cx="581.8499999999999" cy="630.6" r="1.6" fill="#EE6F63"/>
<line x1="591.75" y1="667.9" x2="591.75" y2="682.8" stroke="#168A92" stroke-width="1.5" />
<line x1="591.75" y1="692" x2="591.75" y2="694" stroke="#168A92" stroke-width="1.5" />
<rect x="587.45" y="682.8" width="8.6" height="9.200000000000045" fill="#fff" stroke="#168A92" stroke-width="1.5"/>
<line x1="587.45" y1="688.4" x2="596.05" y2="688.4" stroke="#168A92" stroke-width="2.4" />
<circle cx="591.75" cy="643.7" r="1.6" fill="#168A92"/>
<circle cx="591.75" cy="646.4" r="1.6" fill="#168A92"/>
<circle cx="591.75" cy="660.1" r="1.6" fill="#168A92"/>
<text x="586.8" y="555.5" font-size="9.36" text-anchor="middle" fill="#222" >**</text>
<line x1="608.3699999999999" y1="656.6" x2="608.3699999999999" y2="671" stroke="#EE6F63" stroke-width="1.5" />
<line x1="608.3699999999999" y1="688.4" x2="608.3699999999999" y2="692" stroke="#EE6F63" stroke-width="1.5" />
<rect x="604.0699999999999" y="671" width="8.6" height="17.399999999999977" fill="#fff" stroke="#EE6F63" stroke-width="1.5"/>
<line x1="604.0699999999999" y1="679.1" x2="612.6699999999998" y2="679.1" stroke="#EE6F63" stroke-width="2.4" />
<circle cx="608.3699999999999" cy="594.1" r="1.6" fill="#EE6F63"/>
<circle cx="608.3699999999999" cy="609.5" r="1.6" fill="#EE6F63"/>
<circle cx="608.3699999999999" cy="636.7" r="1.6" fill="#EE6F63"/>
<circle cx="608.3699999999999" cy="639.2" r="1.6" fill="#EE6F63"/>
<line x1="618.27" y1="602.3" x2="618.27" y2="647" stroke="#168A92" stroke-width="1.5" />
<line x1="618.27" y1="681.2" x2="618.27" y2="692.9" stroke="#168A92" stroke-width="1.5" />
<rect x="613.97" y="647" width="8.6" height="34.200000000000045" fill="#fff" stroke="#168A92" stroke-width="1.5"/>
<line x1="613.97" y1="666.9" x2="622.5699999999999" y2="666.9" stroke="#168A92" stroke-width="2.4" />
<circle cx="618.27" cy="580.2" r="1.6" fill="#168A92"/>
<circle cx="618.27" cy="581.9" r="1.6" fill="#168A92"/>
<text x="613.3199999999999" y="555.5" font-size="9.36" text-anchor="middle" fill="#222" >**</text>
<line x1="634.8899999999999" y1="665.8" x2="634.8899999999999" y2="679.5" stroke="#EE6F63" stroke-width="1.5" />
<line x1="634.8899999999999" y1="690.8" x2="634.8899999999999" y2="692" stroke="#EE6F63" stroke-width="1.5" />
<rect x="630.5899999999999" y="679.5" width="8.6" height="11.299999999999955" fill="#fff" stroke="#EE6F63" stroke-width="1.5"/>
<line x1="630.5899999999999" y1="687.3" x2="639.1899999999998" y2="687.3" stroke="#EE6F63" stroke-width="2.4" />
<line x1="644.79" y1="643.9" x2="644.79" y2="669.3" stroke="#168A92" stroke-width="1.5" />
<line x1="644.79" y1="688.4" x2="644.79" y2="692" stroke="#168A92" stroke-width="1.5" />
<rect x="640.49" y="669.3" width="8.6" height="19.100000000000023" fill="#fff" stroke="#168A92" stroke-width="1.5"/>
<line x1="640.49" y1="681.6" x2="649.0899999999999" y2="681.6" stroke="#168A92" stroke-width="2.4" />
<circle cx="644.79" cy="596.8" r="1.6" fill="#168A92"/>
<circle cx="644.79" cy="613.2" r="1.6" fill="#168A92"/>
<circle cx="644.79" cy="618.7" r="1.6" fill="#168A92"/>
<circle cx="644.79" cy="638.8" r="1.6" fill="#168A92"/>
<text x="639.8399999999999" y="555.5" font-size="9.36" text-anchor="middle" fill="#222" >***</text>
<line x1="661.41" y1="646" x2="661.41" y2="661.7" stroke="#EE6F63" stroke-width="1.5" />
<line x1="661.41" y1="678.5" x2="661.41" y2="691.4" stroke="#EE6F63" stroke-width="1.5" />
<rect x="657.11" y="661.7" width="8.6" height="16.799999999999955" fill="#fff" stroke="#EE6F63" stroke-width="1.5"/>
<line x1="657.11" y1="668.3" x2="665.7099999999999" y2="668.3" stroke="#EE6F63" stroke-width="2.4" />
<circle cx="661.41" cy="607.5" r="1.6" fill="#EE6F63"/>
<circle cx="661.41" cy="612.2" r="1.6" fill="#EE6F63"/>
<line x1="671.3100000000001" y1="625.5" x2="671.3100000000001" y2="650.5" stroke="#168A92" stroke-width="1.5" />
<line x1="671.3100000000001" y1="675.5" x2="671.3100000000001" y2="687.7" stroke="#168A92" stroke-width="1.5" />
<rect x="667.0100000000001" y="650.5" width="8.6" height="25.0" fill="#fff" stroke="#168A92" stroke-width="1.5"/>
<line x1="667.0100000000001" y1="664.4" x2="675.61" y2="664.4" stroke="#168A92" stroke-width="2.4" />
<circle cx="671.3100000000001" cy="580.8" r="1.6" fill="#168A92"/>
<circle cx="671.3100000000001" cy="598.2" r="1.6" fill="#168A92"/>
<circle cx="671.3100000000001" cy="605.4" r="1.6" fill="#168A92"/>
</g>
<line x1="56.4" y1="701.4" x2="56.4" y2="703.9" stroke="#333" stroke-width="1" />
<text x="0" y="0" font-size="11.5" text-anchor="end" transform="translate(61.6,710.8) rotate(-45)" textLength="77.8" lengthAdjust="spacingAndGlyphs">LOC110864311</text>
<line x1="82.92" y1="701.4" x2="82.92" y2="703.9" stroke="#333" stroke-width="1" />
<text x="0" y="0" font-size="11.5" text-anchor="end" transform="translate(88.12,710.8) rotate(-45)" textLength="77.8" lengthAdjust="spacingAndGlyphs">LOC110870710</text>
<line x1="109.44" y1="701.4" x2="109.44" y2="703.9" stroke="#333" stroke-width="1" />
<text x="0" y="0" font-size="11.5" text-anchor="end" transform="translate(114.64,710.8) rotate(-45)" textLength="77.8" lengthAdjust="spacingAndGlyphs">LOC110872542</text>
<line x1="135.96" y1="701.4" x2="135.96" y2="703.9" stroke="#333" stroke-width="1" />
<text x="0" y="0" font-size="11.5" text-anchor="end" transform="translate(141.16,710.8) rotate(-45)" textLength="77.8" lengthAdjust="spacingAndGlyphs">LOC110876375</text>
<line x1="162.48" y1="701.4" x2="162.48" y2="703.9" stroke="#333" stroke-width="1" />
<text x="0" y="0" font-size="11.5" text-anchor="end" transform="translate(167.67999999999998,710.8) rotate(-45)" textLength="77.8" lengthAdjust="spacingAndGlyphs">LOC110878059</text>
<line x1="189.0" y1="701.4" x2="189.0" y2="703.9" stroke="#333" stroke-width="1" />
<text x="0" y="0" font-size="11.5" text-anchor="end" transform="translate(194.2,710.8) rotate(-45)" textLength="77.8" lengthAdjust="spacingAndGlyphs">LOC110878962</text>
<line x1="215.52" y1="701.4" x2="215.52" y2="703.9" stroke="#333" stroke-width="1" />
<text x="0" y="0" font-size="11.5" text-anchor="end" transform="translate(220.72,710.8) rotate(-45)" textLength="77.8" lengthAdjust="spacingAndGlyphs">LOC110879036</text>
<line x1="242.04" y1="701.4" x2="242.04" y2="703.9" stroke="#333" stroke-width="1" />
<text x="0" y="0" font-size="11.5" text-anchor="end" transform="translate(247.23999999999998,710.8) rotate(-45)" textLength="77.8" lengthAdjust="spacingAndGlyphs">LOC110889723</text>
<line x1="268.56" y1="701.4" x2="268.56" y2="703.9" stroke="#333" stroke-width="1" />
<text x="0" y="0" font-size="11.5" text-anchor="end" transform="translate(273.76,710.8) rotate(-45)" textLength="77.8" lengthAdjust="spacingAndGlyphs">LOC110895539</text>
<line x1="295.08" y1="701.4" x2="295.08" y2="703.9" stroke="#333" stroke-width="1" />
<text x="0" y="0" font-size="11.5" text-anchor="end" transform="translate(300.28,710.8) rotate(-45)" textLength="77.8" lengthAdjust="spacingAndGlyphs">LOC110897054</text>
<line x1="321.59999999999997" y1="701.4" x2="321.59999999999997" y2="703.9" stroke="#333" stroke-width="1" />
<text x="0" y="0" font-size="11.5" text-anchor="end" transform="translate(326.79999999999995,710.8) rotate(-45)" textLength="77.8" lengthAdjust="spacingAndGlyphs">LOC110899186</text>
<line x1="348.11999999999995" y1="701.4" x2="348.11999999999995" y2="703.9" stroke="#333" stroke-width="1" />
<text x="0" y="0" font-size="11.5" text-anchor="end" transform="translate(353.31999999999994,710.8) rotate(-45)" textLength="77.8" lengthAdjust="spacingAndGlyphs">LOC110908843</text>
<line x1="374.64" y1="701.4" x2="374.64" y2="703.9" stroke="#333" stroke-width="1" />
<text x="0" y="0" font-size="11.5" text-anchor="end" transform="translate(379.84,710.8) rotate(-45)" textLength="77.8" lengthAdjust="spacingAndGlyphs">LOC110912127</text>
<line x1="401.15999999999997" y1="701.4" x2="401.15999999999997" y2="703.9" stroke="#333" stroke-width="1" />
<text x="0" y="0" font-size="11.5" text-anchor="end" transform="translate(406.35999999999996,710.8) rotate(-45)" textLength="77.8" lengthAdjust="spacingAndGlyphs">LOC110912639</text>
<line x1="427.67999999999995" y1="701.4" x2="427.67999999999995" y2="703.9" stroke="#333" stroke-width="1" />
<text x="0" y="0" font-size="11.5" text-anchor="end" transform="translate(432.87999999999994,710.8) rotate(-45)" textLength="77.8" lengthAdjust="spacingAndGlyphs">LOC110915330</text>
<line x1="454.2" y1="701.4" x2="454.2" y2="703.9" stroke="#333" stroke-width="1" />
<text x="0" y="0" font-size="11.5" text-anchor="end" transform="translate(459.4,710.8) rotate(-45)" textLength="77.8" lengthAdjust="spacingAndGlyphs">LOC110923352</text>
<line x1="480.71999999999997" y1="701.4" x2="480.71999999999997" y2="703.9" stroke="#333" stroke-width="1" />
<text x="0" y="0" font-size="11.5" text-anchor="end" transform="translate(485.91999999999996,710.8) rotate(-45)" textLength="77.8" lengthAdjust="spacingAndGlyphs">LOC110925559</text>
<line x1="507.23999999999995" y1="701.4" x2="507.23999999999995" y2="703.9" stroke="#333" stroke-width="1" />
<text x="0" y="0" font-size="11.5" text-anchor="end" transform="translate(512.4399999999999,710.8) rotate(-45)" textLength="77.8" lengthAdjust="spacingAndGlyphs">LOC110929190</text>
<line x1="533.76" y1="701.4" x2="533.76" y2="703.9" stroke="#333" stroke-width="1" />
<text x="0" y="0" font-size="11.5" text-anchor="end" transform="translate(538.96,710.8) rotate(-45)" textLength="77.8" lengthAdjust="spacingAndGlyphs">LOC110930102</text>
<line x1="560.28" y1="701.4" x2="560.28" y2="703.9" stroke="#333" stroke-width="1" />
<text x="0" y="0" font-size="11.5" text-anchor="end" transform="translate(565.48,710.8) rotate(-45)" textLength="77.8" lengthAdjust="spacingAndGlyphs">LOC110930970</text>
<line x1="586.8" y1="701.4" x2="586.8" y2="703.9" stroke="#333" stroke-width="1" />
<text x="0" y="0" font-size="11.5" text-anchor="end" transform="translate(592.0,710.8) rotate(-45)" textLength="77.8" lengthAdjust="spacingAndGlyphs">LOC110933799</text>
<line x1="613.3199999999999" y1="701.4" x2="613.3199999999999" y2="703.9" stroke="#333" stroke-width="1" />
<text x="0" y="0" font-size="11.5" text-anchor="end" transform="translate(618.52,710.8) rotate(-45)" textLength="77.8" lengthAdjust="spacingAndGlyphs">LOC110939634</text>
<line x1="639.8399999999999" y1="701.4" x2="639.8399999999999" y2="703.9" stroke="#333" stroke-width="1" />
<text x="0" y="0" font-size="11.5" text-anchor="end" transform="translate(645.04,710.8) rotate(-45)" textLength="77.8" lengthAdjust="spacingAndGlyphs">LOC110940951</text>
<line x1="666.36" y1="701.4" x2="666.36" y2="703.9" stroke="#333" stroke-width="1" />
<text x="0" y="0" font-size="11.5" text-anchor="end" transform="translate(671.5600000000001,710.8) rotate(-45)" textLength="77.8" lengthAdjust="spacingAndGlyphs">LOC110941795</text>
<text x="361.5" y="779" font-size="14.04" text-anchor="middle" fill="#000" >Gene</text>
<text x="0" y="0" font-size="14.0" text-anchor="middle" transform="translate(25.0,624.5) rotate(-90)" textLength="104" lengthAdjust="spacingAndGlyphs">Gene Expression</text>
<line x1="601.7" y1="557.2" x2="601.7" y2="566.0" stroke="#EE6F63" stroke-width="1.2" />
<rect x="597.3" y="558.6" width="8.8" height="6" fill="#fff" stroke="#EE6F63" stroke-width="1.3"/>
<line x1="597.3" y1="561.6" x2="606.1" y2="561.6" stroke="#EE6F63" stroke-width="1.8" />
<text x="611.6" y="565.5" font-size="11.23" text-anchor="start" fill="#000" textLength="54.5" lengthAdjust="spacingAndGlyphs" >Resistance</text>
<line x1="601.7" y1="569.0" x2="601.7" y2="577.8" stroke="#168A92" stroke-width="1.2" />
<rect x="597.3" y="570.4" width="8.8" height="6" fill="#fff" stroke="#168A92" stroke-width="1.3"/>
<line x1="597.3" y1="573.4" x2="606.1" y2="573.4" stroke="#168A92" stroke-width="1.8" />
<text x="611.6" y="577.3" font-size="11.23" text-anchor="start" fill="#000" textLength="63.3" lengthAdjust="spacingAndGlyphs" >Susceptibility</text>
</g>
</svg></body></html>
